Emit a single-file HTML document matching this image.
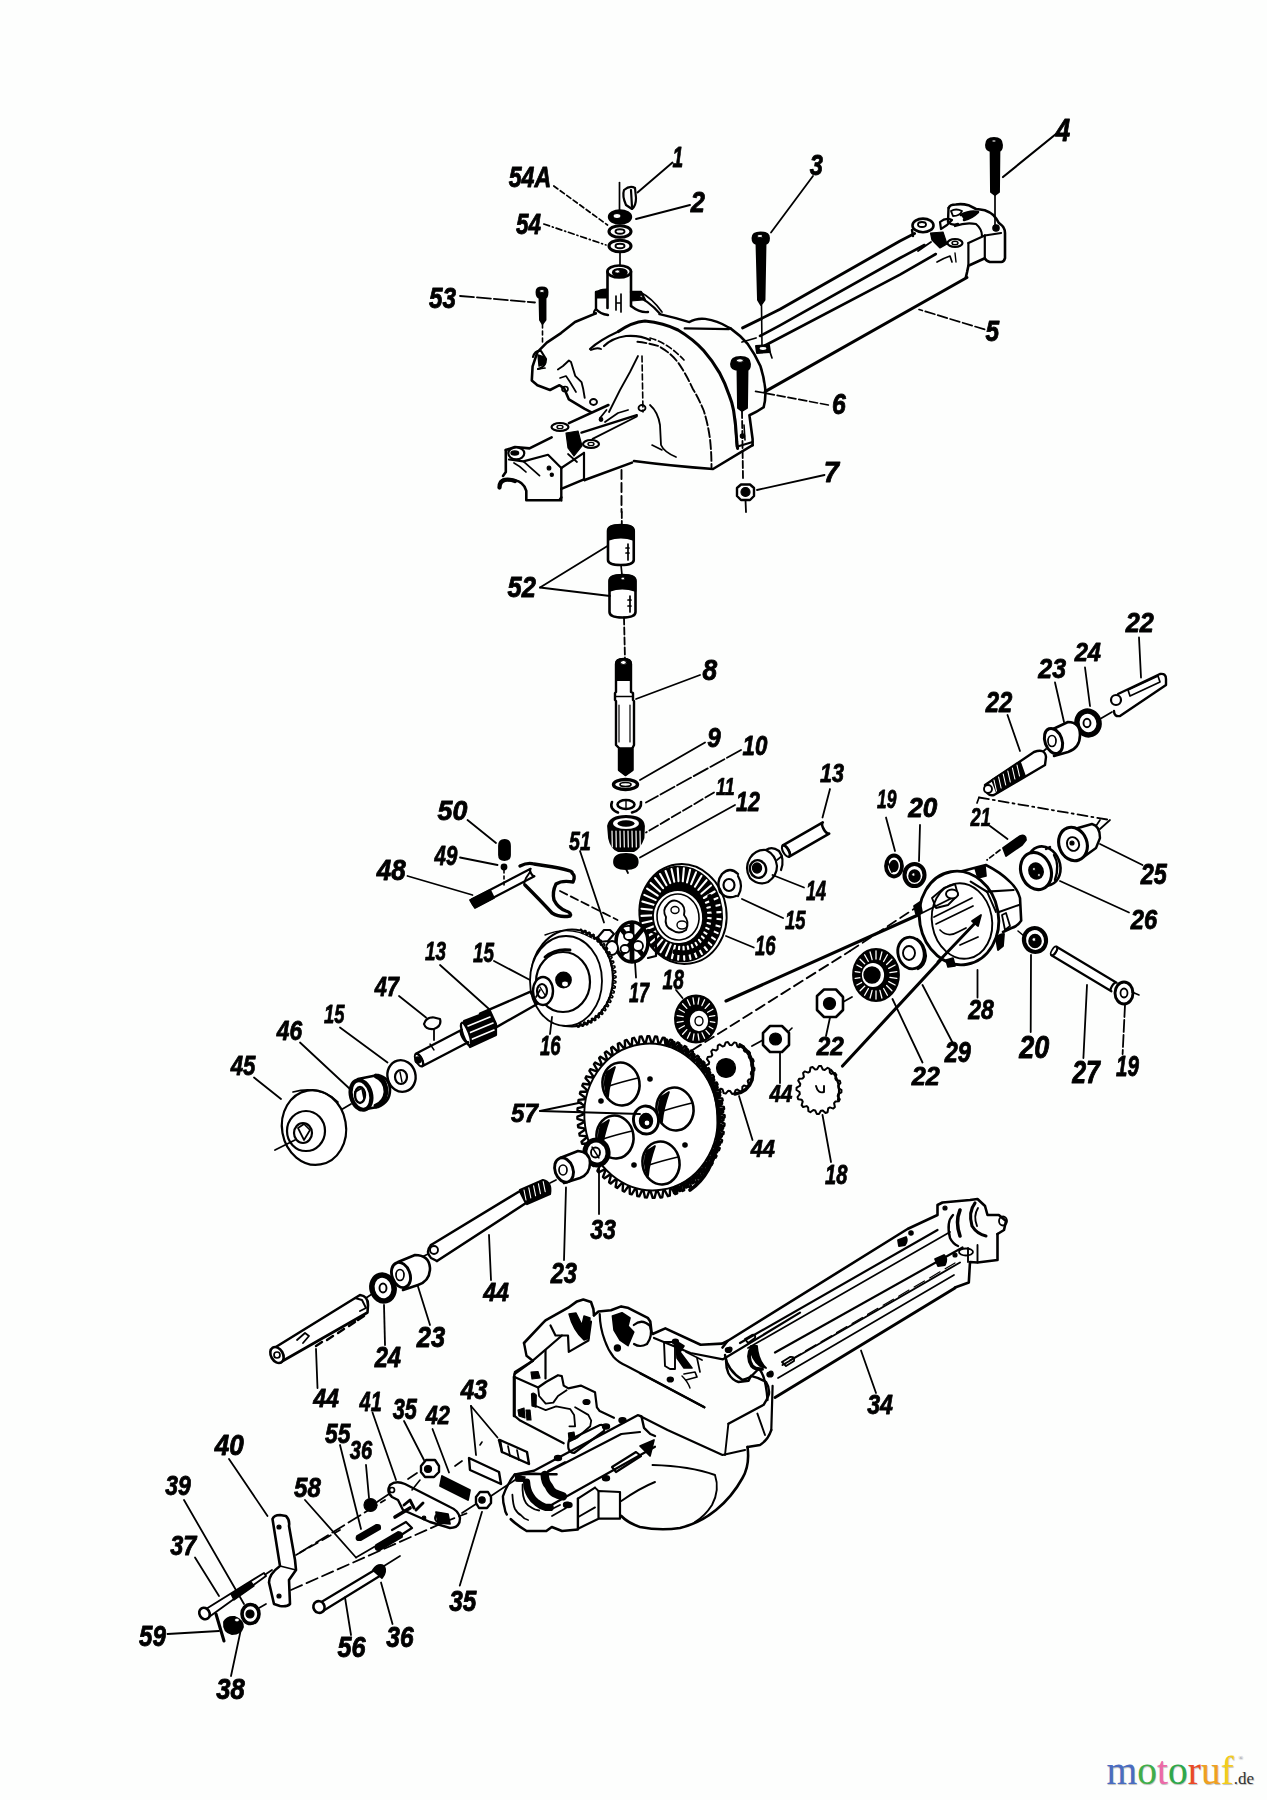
<!DOCTYPE html>
<html><head><meta charset="utf-8"><style>
html,body{margin:0;padding:0;background:#fdfefd;width:1267px;height:1800px;overflow:hidden}
svg{display:block}
.lbl{opacity:0.999}
.lbl text{font-family:"Liberation Sans",sans-serif;font-weight:bold;font-style:italic;font-size:100px;fill:#000;stroke:#000;stroke-width:3px;stroke-linejoin:round}
.logo{position:absolute;left:1106.5px;top:1751.5px;font-family:"Liberation Serif",serif;font-size:39.5px;line-height:1;white-space:nowrap;text-shadow:0.6px 0.6px 0.8px rgba(0,0,0,0.25)}
</style></head><body>
<svg width="1267" height="1800" viewBox="0 0 1267 1800">
<g stroke="#000" fill="none" stroke-linejoin="round" stroke-linecap="round">
<line x1="553.8" y1="186" x2="607.5" y2="225" stroke-width="1.7" stroke-linecap="round" stroke-dasharray="5 3"/>
<line x1="543.8" y1="224" x2="606" y2="245" stroke-width="1.7" stroke-linecap="round" stroke-dasharray="6 3 1 3"/>
<line x1="672.5" y1="162.5" x2="637.5" y2="192.5" stroke-width="1.9" stroke-linecap="round"/>
<line x1="690" y1="205" x2="636" y2="219" stroke-width="1.9" stroke-linecap="round"/>
<line x1="460" y1="296" x2="535" y2="302.5" stroke-width="1.8" stroke-linecap="round" stroke-dasharray="14 3"/>
<line x1="813" y1="176" x2="771" y2="232.5" stroke-width="1.8" stroke-linecap="round"/>
<line x1="1056" y1="134" x2="1003" y2="177" stroke-width="2.2" stroke-linecap="round"/>
<line x1="984.6" y1="329.4" x2="919" y2="309.5" stroke-width="1.7" stroke-linecap="round" stroke-dasharray="10 3"/>
<line x1="828.3" y1="405" x2="754" y2="391" stroke-width="1.7" stroke-linecap="round" stroke-dasharray="8 3"/>
<line x1="824.5" y1="475" x2="757" y2="490" stroke-width="1.8" stroke-linecap="round"/>
<line x1="619.5" y1="182.5" x2="619.5" y2="212" stroke-width="1.7" stroke-linecap="round"/>
<path d="M624,190 Q622,196 626,205 L632,209 Q636,206 636,198 L635,188 Q630,185 624,190 Z" stroke-width="2.2" fill="none" />
<line x1="631" y1="190" x2="632" y2="207" stroke-width="2.2" stroke-linecap="round"/>
<ellipse cx="620" cy="217" rx="11" ry="6.5" stroke-width="2.4" fill="#000"/>
<ellipse cx="617" cy="216" rx="4" ry="2.5" stroke-width="1.2" fill="#fff"/>
<ellipse cx="620" cy="231.5" rx="11" ry="5.8" stroke-width="3.1" fill="none"/>
<ellipse cx="620" cy="231.5" rx="4.5" ry="2.2" stroke-width="1.9" fill="none"/>
<ellipse cx="620" cy="246" rx="11" ry="5.8" stroke-width="3.1" fill="none"/>
<ellipse cx="620" cy="246" rx="4.5" ry="2.2" stroke-width="1.9" fill="none"/>
<line x1="620" y1="252" x2="620" y2="266" stroke-width="1.7" stroke-linecap="round"/>
<path d="M607.5,271.5 L607.5,308 M631,271.5 L631,306" stroke-width="2.6" fill="none" />
<ellipse cx="619.2" cy="271.5" rx="11.8" ry="6" stroke-width="2.6" fill="none"/>
<ellipse cx="619.8" cy="272.5" rx="7" ry="3.6" stroke-width="1.9" fill="#000"/>
<ellipse cx="617.5" cy="271.5" rx="2.5" ry="1.5" stroke-width="0.7" fill="#fff"/>
<path d="M596,292 L607,290 M596,292 L596,309 Q600,314 608,315" stroke-width="2.4" fill="none" />
<path d="M597,293 Q598,289 607,289 L607,298 L597,298 Z" stroke-width="1.2" fill="#000" />
<path d="M631,292 L641,292 L645,300 M631,306 Q640,313 648,312" stroke-width="2.4" fill="none" />
<path d="M631,293 L640,293 L643,300 L631,301 Z" stroke-width="1.2" fill="#000" />
<ellipse cx="641" cy="297" rx="1.5" ry="1.5" stroke-width="0.7" fill="#fff"/>
<path d="M616,296 L616,310 M621,294 L621,312 M616,303 L621,303" stroke-width="1.7" fill="none" />
<path d="M536.5,292 Q536.5,287.5 542,287.5 Q547.5,287.5 547.5,292 Q547.5,297 545.5,298 L545.5,320 L542.5,324 L540,320 L539.5,298 Q536.5,297 536.5,292 Z" stroke-width="1.9" fill="#000" />
<ellipse cx="542" cy="291" rx="2.5" ry="1.5" stroke-width="1" fill="#fff"/>
<line x1="542.5" y1="324" x2="542.5" y2="342" stroke-width="1.6" stroke-linecap="round" stroke-dasharray="4 3"/>
<polyline points="595.8,313.4 575,322 561,333.1 546.8,342.6 537.4,352.1 532.6,366.3 531.8,380.5 537.4,385.2 550,390 559.5,385.2 564.2,388.4 568.9,399.4 584.7,408.9 591,412.1" stroke-width="2.6" fill="none"/>
<path d="M596,309 Q592,313 595.8,313.4" stroke-width="2.2" fill="none" />
<path d="M533,357 Q535,350 541,351 L546,359 Q546,367 538,369" stroke-width="2.2" fill="none" />
<path d="M538,355 L544,357 L545,364 L539,366 Z" stroke-width="1.4" fill="#000" />
<line x1="538" y1="369" x2="545" y2="368" stroke-width="1.7" stroke-linecap="round"/>
<polyline points="557.9,369.5 563,366 568.9,360.5 571,362 575.2,375.8 581.5,382.1 583.1,388.4 584.7,397.9" stroke-width="1.9" fill="none"/>
<polyline points="560,378 566,376 570,382 576,392" stroke-width="1.7" fill="none"/>
<path d="M590,349 Q600,340 618.4,331.6" stroke-width="2.2" fill="none" />
<path d="M591,350 Q597,347 601,349" stroke-width="1.9" fill="none" />
<path d="M604,346 Q612,338 626,336 Q640,335 650,340" stroke-width="2.2" fill="none" />
<path d="M618.4,331.6 Q632,322 645,321 Q664,323 678,330 Q693,339 703.6,350.5 Q712,360 719.4,372.6 Q725,383 729,394.7 Q732,402 733.6,410.5 Q736,425 736.8,442 L737.6,448.4" stroke-width="3.1" fill="none" />
<path d="M637.4,341.8 Q648,343 657.9,345.8 Q670,352 678.4,363 Q686,374 692.6,388.4 Q699,399 703.7,410.5 Q708,424 710,439 Q711.5,452 711.5,467.3" stroke-width="1.9" fill="none" stroke-dasharray="9 3"/>
<path d="M650,338 Q668,343 684,360" stroke-width="1.7" fill="none" stroke-dasharray="6 3"/>
<path d="M659.5,314.2 Q676,318 689.4,322.1 Q696,318 705.2,318.9 Q718,321 727.3,326.8 L730.5,328.4" stroke-width="2.4" fill="none" />
<line x1="684.7" y1="328.4" x2="728.9" y2="329.2" stroke-width="2.2" stroke-linecap="round"/>
<path d="M632.5,293.75 Q648,300 660,313.75" stroke-width="2.2" fill="none" />
<path d="M640,292 Q652,298 662,312" stroke-width="1.7" fill="none" />
<path d="M730.5,328.4 Q740,335 747.9,344.2 Q755,354 760.5,366.3 Q764,377 765.2,388.4 Q766,399 763.6,407.3 Q757,412 749.4,415.2 L752.6,439 L752.6,445.2" stroke-width="2.6" fill="none" />
<polyline points="735,418.4 736.8,446.8 752.6,442" stroke-width="2.2" fill="none"/>
<line x1="744" y1="425" x2="745" y2="440" stroke-width="1.6" stroke-linecap="round"/>
<path d="M634,461 Q672,466 713,469 L752.6,445.2" stroke-width="2.6" fill="none" />
<path d="M632,462.6 L584.7,480" stroke-width="2.6" fill="none" />
<polyline points="638,356 630,372 620,390 609,412" stroke-width="1.8" fill="none"/>
<line x1="642" y1="356" x2="643" y2="412" stroke-width="1.6" stroke-linecap="round" stroke-dasharray="6 3"/>
<polyline points="605,422 618,413 628,410" stroke-width="1.8" fill="none"/>
<path d="M650,405 Q658,412 660,425 L661,445 Q664,452 676,457" stroke-width="1.8" fill="none" />
<path d="M652,445 L662,450" stroke-width="1.6" fill="none" />
<ellipse cx="642" cy="408" rx="3.5" ry="3" stroke-width="1.8" fill="none"/>
<line x1="568.9" y1="423.1" x2="608.4" y2="405" stroke-width="2.6" stroke-linecap="round"/>
<line x1="581.5" y1="432.6" x2="636.8" y2="415.2" stroke-width="2.4" stroke-linecap="round"/>
<line x1="592.6" y1="438.9" x2="636.8" y2="416.5" stroke-width="1.9" stroke-linecap="round"/>
<ellipse cx="593.5" cy="402" rx="3.5" ry="3" stroke-width="1.9" fill="none"/>
<ellipse cx="565" cy="389" rx="3" ry="2.5" stroke-width="1.7" fill="none"/>
<line x1="606.5" y1="410" x2="600" y2="418" stroke-width="1.8" stroke-linecap="round"/>
<ellipse cx="601" cy="419.5" rx="1.8" ry="1.8" stroke-width="1.2" fill="#000"/>
<polyline points="505.8,450 515,447 529.5,448.4 551.6,437.3" stroke-width="2.6" fill="none"/>
<polyline points="505.8,450 505.8,472 503,476" stroke-width="2.6" fill="none"/>
<path d="M500.7,481.3 Q503,479 507.3,479.4 Q511,479.5 514.9,480.3 Q519,481 521.5,483.2 Q525,486 526.3,490.8 L526.3,500.2 L559.4,500.2 L561.3,497.4 M561.3,488.9 L584,479.4 L584.7,480" stroke-width="2.6" fill="none" />
<path d="M499.5,487.5 Q499.5,481 505,479.8 Q510,479.2 515,481" stroke-width="4.3" fill="none" />
<line x1="561.3" y1="468" x2="561.3" y2="500.5" stroke-width="2.4" stroke-linecap="round"/>
<polyline points="509,459.5 523.4,461.4 548,454.8 561.3,468" stroke-width="2.2" fill="none"/>
<line x1="561.3" y1="468" x2="584" y2="452.9" stroke-width="2.2" stroke-linecap="round"/>
<line x1="584" y1="452.9" x2="584" y2="480" stroke-width="2.2" stroke-linecap="round"/>
<line x1="523.4" y1="461.4" x2="539.5" y2="475.6" stroke-width="1.8" stroke-linecap="round"/>
<path d="M514,463 Q520,466 526,472" stroke-width="1.7" fill="none" />
<ellipse cx="549" cy="468" rx="1.8" ry="2" stroke-width="1.2" fill="#000"/>
<ellipse cx="551.8" cy="474.7" rx="1.6" ry="1.6" stroke-width="1.2" fill="#000"/>
<ellipse cx="516.3" cy="453.3" rx="8" ry="6" stroke-width="2.2" fill="#fff"/>
<ellipse cx="514.8" cy="453" rx="3.8" ry="2" stroke-width="1.4" fill="#000"/>
<ellipse cx="560" cy="427" rx="8.5" ry="4" stroke-width="2.2" fill="none"/>
<ellipse cx="560" cy="427" rx="3" ry="1.6" stroke-width="1.4" fill="none"/>
<ellipse cx="591" cy="444" rx="8" ry="4" stroke-width="2.2" fill="none"/>
<ellipse cx="591" cy="444" rx="3" ry="1.6" stroke-width="1.4" fill="none"/>
<path d="M566,433 L578,431 L582,446 L574,456 L568,448 Z" stroke-width="1.2" fill="#000" />
<line x1="568" y1="454" x2="577" y2="462" stroke-width="1.7" stroke-linecap="round"/>
<line x1="621.5" y1="470" x2="621.5" y2="512" stroke-width="1.9" stroke-linecap="round" stroke-dasharray="9 4"/>
<path d="M752.5,238 Q752.5,232.5 760.5,232.5 Q769,232.5 769,238 Q769,243 765.5,244 L764.5,300 L761,305 L758,300 L756.5,244 Q752.5,243 752.5,238 Z" stroke-width="1.9" fill="#000" />
<ellipse cx="760" cy="236" rx="3" ry="1.5" stroke-width="1" fill="#fff"/>
<line x1="761.5" y1="305" x2="762" y2="347" stroke-width="1.6" stroke-linecap="round"/>
<path d="M756,346 L769,345 L770,352 L757,353 Z" stroke-width="1.9" fill="#000" />
<ellipse cx="763" cy="348.5" rx="4" ry="2" stroke-width="1.2" fill="#fff"/>
<line x1="770" y1="352" x2="772" y2="358" stroke-width="1.7" stroke-linecap="round"/>
<path d="M986,145 Q986,138 994,138 Q1002,138 1002,145 Q1002,150 999.4,151 L999,192 L995,195 L991,192 L990.6,151 Q986,150 986,145 Z" stroke-width="1.9" fill="#000" />
<ellipse cx="994" cy="141" rx="2" ry="1" stroke-width="0.7" fill="#fff"/>
<line x1="995" y1="195" x2="995" y2="230" stroke-width="1.7" stroke-linecap="round"/>
<polyline points="742.6,327.9 780,309.3 900,241 914.5,233.5" stroke-width="2.9" fill="none"/>
<polyline points="760,336 780,325.3 900,258 924.5,245" stroke-width="2.6" fill="none"/>
<polyline points="765,345.5 900,274.7 935.8,254" stroke-width="2.6" fill="none"/>
<line x1="765" y1="391.6" x2="967" y2="277.5" stroke-width="3" stroke-linecap="round"/>
<line x1="742" y1="342" x2="756" y2="338" stroke-width="1.8" stroke-linecap="round"/>
<path d="M948.8,207.7 Q950,204.5 955.8,204.5 Q962,203.5 968.4,205.2 Q972,207 976,209 Q980,209.5 984.8,210.2 Q990,212 993.6,215.3 Q997,219 998.7,222.8 Q1003,226 1003.7,227.9 Q1005,230 1005,233 L1005,258.2 Q1004,262 1001.2,262 L989.8,262 Q986,261 984.8,258.2 L968.4,265.8 L967.1,272 L965.9,277.1" stroke-width="2.6" fill="none" />
<ellipse cx="923" cy="225.4" rx="10.5" ry="6.8" stroke-width="2.6" fill="none"/>
<ellipse cx="922" cy="224.5" rx="4" ry="2.5" stroke-width="1.9" fill="none"/>
<path d="M912,230 L913,236" stroke-width="2.4" fill="none" />
<path d="M948.5,208 L948,222 Q952,226 958,224" stroke-width="2.4" fill="none" />
<path d="M951,211 Q956,208 962,211 Q960,216 953,216 Z" stroke-width="1.9" fill="none" />
<path d="M961,215 Q970,210 978,212 Q972,218 964,220" stroke-width="2.6" fill="#000" />
<path d="M940,222 Q946,217 952,220 Q947,226 941,229 Z" stroke-width="2.2" fill="none" />
<path d="M955,226 Q966,222 976,224 Q982,229 982,236" stroke-width="2.2" fill="none" />
<line x1="968.4" y1="243" x2="984.8" y2="235.5" stroke-width="2.2" stroke-linecap="round"/>
<line x1="984.8" y1="235.5" x2="1001.2" y2="233" stroke-width="1.9" stroke-linecap="round"/>
<line x1="968.4" y1="243" x2="968.4" y2="265.8" stroke-width="2.2" stroke-linecap="round"/>
<line x1="984.8" y1="235.5" x2="984.8" y2="258.2" stroke-width="2.2" stroke-linecap="round"/>
<ellipse cx="955" cy="243" rx="7.5" ry="4" stroke-width="2.2" fill="none"/>
<ellipse cx="955" cy="243" rx="3" ry="1.8" stroke-width="1.4" fill="none"/>
<path d="M930.5,233 L943,232 L947,244 L940,248 L932,240 Z" stroke-width="1.2" fill="#000" />
<ellipse cx="996" cy="228" rx="3.2" ry="3.2" stroke-width="1.2" fill="#000"/>
<line x1="931" y1="242" x2="918" y2="251" stroke-width="1.9" stroke-linecap="round"/>
<path d="M937,262 Q944,258 950,256 L952,262" stroke-width="1.7" fill="none" />
<line x1="955" y1="253" x2="956" y2="262" stroke-width="1.4" stroke-linecap="round"/>
<path d="M731,364 Q731,357 740.5,357 Q750,357 750,364 Q750,369 747.5,370 L747,408 L742,411 L738,408 L737.5,370 Q731,369 731,364 Z" stroke-width="1.9" fill="#000" />
<ellipse cx="740" cy="360.5" rx="3.5" ry="1.8" stroke-width="1" fill="#fff"/>
<line x1="742" y1="411" x2="743" y2="478" stroke-width="1.8" stroke-linecap="round" stroke-dasharray="7 3"/>
<ellipse cx="742.5" cy="436" rx="2.2" ry="2.2" stroke-width="1.2" fill="#000"/>
<path d="M737,488 L741,484.5 L750,484.5 L754,488 L754,496 L750,500 L741,500 L737,496 Z" stroke-width="2.4" fill="#fff" />
<ellipse cx="745.5" cy="492" rx="4.5" ry="4.5" stroke-width="1.2" fill="#000"/>
<line x1="745.5" y1="500" x2="746" y2="512" stroke-width="1.8" stroke-linecap="round"/>
<line x1="621.8" y1="512" x2="621.8" y2="525" stroke-width="1.8" stroke-linecap="round" stroke-dasharray="6 3"/>
<path d="M608,531 Q608,525 620.9,525 Q633.75,525 633.75,531 L633.75,560 Q633.75,565 620.9,565 Q608,565 608,560 Z" stroke-width="2.6" fill="#fff" />
<path d="M608,531 Q608,525 620.9,525 Q633.75,525 633.75,531 L633.75,540 Q621,535 608,540 Z" stroke-width="1.8" fill="#000" />
<path d="M628,544 L628,560 M626,548 L629,548 M626,553 L629,553" stroke-width="1.7" fill="none" />
<line x1="621" y1="565" x2="622" y2="575" stroke-width="1.7" stroke-linecap="round"/>
<path d="M609.5,581 Q609.5,575 622.5,575 Q635.5,575 635.5,581 L635.5,612 Q635.5,617.5 622.5,617.5 Q609.5,617.5 609.5,612 Z" stroke-width="2.6" fill="#fff" />
<path d="M609.5,581 Q609.5,575 622.5,575 Q635.5,575 635.5,581 L635.5,591 Q622,586 609.5,591 Z" stroke-width="1.8" fill="#000" />
<path d="M630,596 L630,612 M628,600 L631,600 M628,606 L631,606" stroke-width="1.7" fill="none" />
<ellipse cx="623" cy="578.5" rx="2" ry="1.5" stroke-width="1" fill="#fff"/>
<line x1="540" y1="587.5" x2="607.5" y2="546" stroke-width="1.8" stroke-linecap="round"/>
<line x1="540" y1="587.5" x2="610" y2="596" stroke-width="1.8" stroke-linecap="round"/>
<line x1="624" y1="617.5" x2="625" y2="660" stroke-width="1.8" stroke-linecap="round" stroke-dasharray="7 3"/>
<path d="M616,664 Q616,659 623.5,659 Q631,659 631,664 L631,692 L633,693 L633,700 L634,701 L634,745 L632.5,748 L632.5,770 L625.5,775 L619,770 L619,748 L616,745 L616,701 L615,700 L615,693 L616,692 Z" stroke-width="2.4" fill="#fff" />
<path d="M616,664 Q616,659 623.5,659 Q631,659 631,664 L631,680 L616,680 Z" stroke-width="1.8" fill="#000" />
<ellipse cx="623.5" cy="662.5" rx="3" ry="2" stroke-width="1" fill="#fff"/>
<path d="M619,748 L632.5,748 L632.5,770 L625.5,775 L619,770 Z" stroke-width="1.4" fill="#000" />
<line x1="615" y1="696.5" x2="633" y2="696.5" stroke-width="1.4" stroke-linecap="round"/>
<line x1="619" y1="705" x2="619" y2="742" stroke-width="1.2" stroke-linecap="round"/>
<line x1="630" y1="705" x2="630" y2="742" stroke-width="1.2" stroke-linecap="round"/>
<line x1="700" y1="675" x2="636" y2="699" stroke-width="1.8" stroke-linecap="round"/>
<ellipse cx="625.5" cy="784.5" rx="12" ry="5" stroke-width="3.4" fill="none"/>
<ellipse cx="625.5" cy="784.5" rx="5.5" ry="2" stroke-width="1.7" fill="none"/>
<line x1="705" y1="742.5" x2="640" y2="780" stroke-width="1.8" stroke-linecap="round"/>
<path d="M612,802 Q609,809 618,812.5 M632,812.5 Q642,810 641,802" stroke-width="2.6" fill="none" />
<ellipse cx="626" cy="804.5" rx="8.5" ry="4.5" stroke-width="2.6" fill="none"/>
<line x1="626" y1="800" x2="626" y2="809" stroke-width="1.4" stroke-linecap="round"/>
<line x1="741" y1="750" x2="646" y2="802.5" stroke-width="1.8" stroke-linecap="round" stroke-dasharray="16 3"/>
<path d="M608,826 Q610,816 626,816 Q643,816 644,826 L643.5,838 Q640,848 634,851 L618,851 Q611,848 609,838 Z" stroke-width="1.8" fill="#000" />
<ellipse cx="626" cy="823.5" rx="13" ry="5.5" stroke-width="0.1" fill="#fff"/>
<ellipse cx="626" cy="823.5" rx="8.5" ry="3.2" stroke-width="0.1" fill="#000"/>
<line x1="612" y1="831" x2="612.3" y2="847" stroke="#fff" stroke-width="1.2"/>
<line x1="616" y1="831" x2="616.3" y2="847" stroke="#fff" stroke-width="1.2"/>
<line x1="620" y1="831" x2="620.3" y2="847" stroke="#fff" stroke-width="1.2"/>
<line x1="624" y1="831" x2="624.3" y2="847" stroke="#fff" stroke-width="1.2"/>
<line x1="628" y1="831" x2="628.3" y2="847" stroke="#fff" stroke-width="1.2"/>
<line x1="632" y1="831" x2="632.3" y2="847" stroke="#fff" stroke-width="1.2"/>
<line x1="636" y1="831" x2="636.3" y2="847" stroke="#fff" stroke-width="1.2"/>
<line x1="640" y1="831" x2="640.3" y2="847" stroke="#fff" stroke-width="1.2"/>
<line x1="714" y1="792.5" x2="646" y2="832.5" stroke-width="1.8" stroke-linecap="round" stroke-dasharray="10 3"/>
<path d="M614,862 Q614,854 626,854 Q637.7,854 637.7,862 Q637.7,869 626,869 Q614,869 614,862 Z" stroke-width="1.8" fill="#000" />
<line x1="626" y1="869" x2="628" y2="873" stroke-width="1.8" stroke-linecap="round"/>
<line x1="735" y1="805" x2="640" y2="857.5" stroke-width="1.8" stroke-linecap="round"/>
<path d="M789.2,856.6 L829.2,833.6 A2.9,6.5 -29.9 0 1 822.8,822.4 L782.8,845.4 A2.9,6.5 -29.9 0 1 789.2,856.6 Z" stroke-width="2.6" fill="#fff"/>
<ellipse cx="786" cy="851" rx="2.9" ry="6.5" stroke-width="2.1" fill="none" transform="rotate(-29.9 786 851)"/>
<line x1="830" y1="789" x2="822.5" y2="817.5" stroke-width="1.8" stroke-linecap="round"/>
<path d="M750,858 Q744,868 750,878 Q758,886 768,882 Q777,876 777,866 Q776,855 766,850 Q756,849 750,858 Z" stroke-width="2.2" fill="none" />
<ellipse cx="758" cy="869" rx="8" ry="9" stroke-width="2.4" fill="#fff" transform="rotate(-20 758 869)"/>
<ellipse cx="757" cy="868" rx="4.5" ry="5" stroke-width="1.4" fill="#000"/>
<path d="M766,850 Q772,846 779,851 Q785,859 781,870" stroke-width="2.2" fill="none" />
<line x1="804" y1="887.5" x2="772.5" y2="875" stroke-width="1.8" stroke-linecap="round"/>
<line x1="777" y1="860" x2="782" y2="856" stroke-width="1.7" stroke-linecap="round"/>
<path d="M722,874 Q716,882 720,892 Q727,900 736,896 M738,874 Q730,866 722,874" stroke-width="2.4" fill="none" />
<ellipse cx="729" cy="885" rx="5.5" ry="6" stroke-width="2.2" fill="#fff"/>
<path d="M738,876 Q744,886 738,896" stroke-width="2.2" fill="none" />
<line x1="783" y1="918" x2="742" y2="899" stroke-width="1.8" stroke-linecap="round"/>
<ellipse cx="683" cy="914" rx="43.5" ry="50" stroke-width="1.9" fill="none" transform="rotate(-8 683 914)"/>
<ellipse cx="681" cy="914" rx="41" ry="47.5" stroke-width="1.8" fill="#000" transform="rotate(-8 681 914)"/>
<line x1="720.5" y1="912.1" x2="708.0" y2="912.8" stroke="#fff" stroke-width="2.1"/>
<line x1="720.5" y1="919.3" x2="708.1" y2="918.0" stroke="#fff" stroke-width="2.1"/>
<line x1="719.6" y1="926.4" x2="707.5" y2="923.0" stroke="#fff" stroke-width="2.1"/>
<line x1="717.7" y1="933.1" x2="706.2" y2="927.9" stroke="#fff" stroke-width="2.1"/>
<line x1="714.9" y1="939.4" x2="704.3" y2="932.4" stroke="#fff" stroke-width="2.1"/>
<line x1="711.3" y1="945.1" x2="701.9" y2="936.4" stroke="#fff" stroke-width="2.1"/>
<line x1="706.9" y1="950.0" x2="698.9" y2="939.9" stroke="#fff" stroke-width="2.1"/>
<line x1="701.9" y1="954.0" x2="695.5" y2="942.8" stroke="#fff" stroke-width="2.1"/>
<line x1="696.4" y1="957.0" x2="691.7" y2="944.9" stroke="#fff" stroke-width="2.1"/>
<line x1="690.5" y1="959.0" x2="687.7" y2="946.3" stroke="#fff" stroke-width="2.1"/>
<line x1="684.3" y1="959.8" x2="683.5" y2="946.9" stroke="#fff" stroke-width="2.1"/>
<line x1="678.1" y1="959.6" x2="679.2" y2="946.7" stroke="#fff" stroke-width="2.1"/>
<line x1="671.9" y1="958.2" x2="675.0" y2="945.6" stroke="#fff" stroke-width="2.1"/>
<line x1="666.0" y1="955.7" x2="670.9" y2="943.8" stroke="#fff" stroke-width="2.1"/>
<line x1="660.5" y1="952.2" x2="667.1" y2="941.3" stroke="#fff" stroke-width="2.1"/>
<line x1="655.4" y1="947.8" x2="663.7" y2="938.1" stroke="#fff" stroke-width="2.1"/>
<line x1="651.0" y1="942.5" x2="660.6" y2="934.3" stroke="#fff" stroke-width="2.1"/>
<line x1="647.3" y1="936.5" x2="658.1" y2="930.0" stroke="#fff" stroke-width="2.1"/>
<line x1="644.5" y1="930.0" x2="656.1" y2="925.3" stroke="#fff" stroke-width="2.1"/>
<line x1="642.5" y1="923.1" x2="654.7" y2="920.3" stroke="#fff" stroke-width="2.1"/>
<line x1="641.5" y1="915.9" x2="654.0" y2="915.2" stroke="#fff" stroke-width="2.1"/>
<line x1="641.5" y1="908.7" x2="653.9" y2="910.0" stroke="#fff" stroke-width="2.1"/>
<line x1="642.4" y1="901.6" x2="654.5" y2="905.0" stroke="#fff" stroke-width="2.1"/>
<line x1="644.3" y1="894.9" x2="655.8" y2="900.1" stroke="#fff" stroke-width="2.1"/>
<line x1="647.1" y1="888.6" x2="657.7" y2="895.6" stroke="#fff" stroke-width="2.1"/>
<line x1="650.7" y1="882.9" x2="660.1" y2="891.6" stroke="#fff" stroke-width="2.1"/>
<line x1="655.1" y1="878.0" x2="663.1" y2="888.1" stroke="#fff" stroke-width="2.1"/>
<line x1="660.1" y1="874.0" x2="666.5" y2="885.2" stroke="#fff" stroke-width="2.1"/>
<line x1="665.6" y1="871.0" x2="670.3" y2="883.1" stroke="#fff" stroke-width="2.1"/>
<line x1="671.5" y1="869.0" x2="674.3" y2="881.7" stroke="#fff" stroke-width="2.1"/>
<line x1="677.7" y1="868.2" x2="678.5" y2="881.1" stroke="#fff" stroke-width="2.1"/>
<line x1="683.9" y1="868.4" x2="682.8" y2="881.3" stroke="#fff" stroke-width="2.1"/>
<line x1="690.1" y1="869.8" x2="687.0" y2="882.4" stroke="#fff" stroke-width="2.1"/>
<line x1="696.0" y1="872.3" x2="691.1" y2="884.2" stroke="#fff" stroke-width="2.1"/>
<line x1="701.5" y1="875.8" x2="694.9" y2="886.7" stroke="#fff" stroke-width="2.1"/>
<line x1="706.6" y1="880.2" x2="698.3" y2="889.9" stroke="#fff" stroke-width="2.1"/>
<line x1="711.0" y1="885.5" x2="701.4" y2="893.7" stroke="#fff" stroke-width="2.1"/>
<line x1="714.7" y1="891.5" x2="703.9" y2="898.0" stroke="#fff" stroke-width="2.1"/>
<line x1="717.5" y1="898.0" x2="705.9" y2="902.7" stroke="#fff" stroke-width="2.1"/>
<line x1="719.5" y1="904.9" x2="707.3" y2="907.7" stroke="#fff" stroke-width="2.1"/>
<path d="M709.9,896.5 L711.5,900.5 L712.8,904.7 L713.6,909.1 L714.1,913.5 L714.1,917.9 L713.7,922.2 L712.8,926.5 L711.6,930.6 L710.0,934.4 L707.9,938.1 L705.6,941.4 L702.9,944.3 L700.0,946.9 L696.8,949.0 L693.4,950.7 L689.8,951.9 L686.1,952.7 L682.4,952.9 L678.6,952.6 L674.9,951.9" stroke="#000" stroke-width="5" fill="none" stroke-dasharray="3 1.5"/>
<ellipse cx="678" cy="917" rx="25" ry="27" stroke-width="1.8" fill="#fff" transform="rotate(-8 678 917)"/>
<ellipse cx="678" cy="917" rx="21" ry="23" stroke-width="1.6" fill="none" transform="rotate(-8 678 917)"/>
<path d="M667,905 Q672,898 679,902 Q686,906 684,915 Q690,922 686,930 Q679,935 672,930 Q664,927 666,917 Q662,910 667,905 Z" stroke-width="1.9" fill="none" />
<ellipse cx="675" cy="910" rx="4" ry="3.5" stroke-width="1.4" fill="#fff"/>
<ellipse cx="682" cy="925" rx="5" ry="4" stroke-width="1.4" fill="#fff"/>
<line x1="753.8" y1="947.5" x2="726" y2="936" stroke-width="1.8" stroke-linecap="round"/>
<path d="M598,937 L604,930 L610,930 L614,934 L608,941 L600,942 Z" stroke-width="2.2" fill="#fff" />
<ellipse cx="632" cy="942" rx="16" ry="20" stroke-width="3.6" fill="#fff"/>
<path d="M622,930 L642,954 M642,930 L622,954 M632,924 L632,960" stroke-width="4.8" fill="none" />
<ellipse cx="629" cy="936" rx="5" ry="4" stroke-width="1.8" fill="#fff"/>
<ellipse cx="638" cy="946" rx="5" ry="5" stroke-width="1.8" fill="#fff"/>
<ellipse cx="625" cy="949" rx="4.5" ry="4" stroke-width="1.8" fill="#fff"/>
<path d="M616,933 Q622,925 630,926" stroke-width="1.9" fill="none" />
<ellipse cx="612" cy="948" rx="6" ry="7" stroke-width="1.9" fill="#fff"/>
<path d="M648,930 L656,934 L656,956 L648,958" stroke-width="2.2" fill="none" />
<line x1="636" y1="977.5" x2="635" y2="962" stroke-width="1.8" stroke-linecap="round"/>
<line x1="580" y1="851" x2="604" y2="922.5" stroke-width="1.8" stroke-linecap="round"/>
<line x1="560" y1="891" x2="617.5" y2="920" stroke-width="1.8" stroke-linecap="round" stroke-dasharray="8 4"/>
<ellipse cx="696" cy="1019" rx="21" ry="23.5" stroke-width="1.9" fill="#000"/>
<line x1="714.8" y1="1022.4" x2="708.8" y2="1021.3" stroke="#fff" stroke-width="1.3"/>
<line x1="712.9" y1="1028.8" x2="707.6" y2="1025.8" stroke="#fff" stroke-width="1.3"/>
<line x1="709.4" y1="1034.2" x2="705.2" y2="1029.6" stroke="#fff" stroke-width="1.3"/>
<line x1="704.6" y1="1038.2" x2="701.9" y2="1032.4" stroke="#fff" stroke-width="1.3"/>
<line x1="699.0" y1="1040.2" x2="698.0" y2="1033.8" stroke="#fff" stroke-width="1.3"/>
<line x1="693.0" y1="1040.2" x2="694.0" y2="1033.8" stroke="#fff" stroke-width="1.3"/>
<line x1="687.4" y1="1038.2" x2="690.1" y2="1032.4" stroke="#fff" stroke-width="1.3"/>
<line x1="682.6" y1="1034.2" x2="686.8" y2="1029.6" stroke="#fff" stroke-width="1.3"/>
<line x1="679.1" y1="1028.8" x2="684.4" y2="1025.8" stroke="#fff" stroke-width="1.3"/>
<line x1="677.2" y1="1022.4" x2="683.2" y2="1021.3" stroke="#fff" stroke-width="1.3"/>
<line x1="677.2" y1="1015.6" x2="683.2" y2="1016.7" stroke="#fff" stroke-width="1.3"/>
<line x1="679.1" y1="1009.2" x2="684.4" y2="1012.2" stroke="#fff" stroke-width="1.3"/>
<line x1="682.6" y1="1003.8" x2="686.8" y2="1008.4" stroke="#fff" stroke-width="1.3"/>
<line x1="687.4" y1="999.8" x2="690.1" y2="1005.6" stroke="#fff" stroke-width="1.3"/>
<line x1="693.0" y1="997.8" x2="694.0" y2="1004.2" stroke="#fff" stroke-width="1.3"/>
<line x1="699.0" y1="997.8" x2="698.0" y2="1004.2" stroke="#fff" stroke-width="1.3"/>
<line x1="704.6" y1="999.8" x2="701.9" y2="1005.6" stroke="#fff" stroke-width="1.3"/>
<line x1="709.4" y1="1003.8" x2="705.2" y2="1008.4" stroke="#fff" stroke-width="1.3"/>
<line x1="712.9" y1="1009.2" x2="707.6" y2="1012.2" stroke="#fff" stroke-width="1.3"/>
<line x1="714.8" y1="1015.6" x2="708.8" y2="1016.7" stroke="#fff" stroke-width="1.3"/>
<ellipse cx="699" cy="1021" rx="10" ry="11" stroke-width="1.7" fill="#fff"/>
<ellipse cx="699" cy="1021" rx="4" ry="4.5" stroke-width="1.4" fill="none"/>
<line x1="676" y1="990" x2="682.5" y2="998" stroke-width="1.8" stroke-linecap="round"/>
<line x1="726" y1="1001" x2="918" y2="915" stroke-width="3.1" stroke-linecap="round"/>
<line x1="918" y1="915" x2="952" y2="898" stroke-width="1.7" stroke-linecap="round"/>
<line x1="692.5" y1="1050" x2="850" y2="951" stroke-width="1.9" stroke-linecap="round" stroke-dasharray="10 5"/>
<line x1="850" y1="951" x2="920" y2="905" stroke-width="1.7" stroke-linecap="round" stroke-dasharray="10 5"/>
<line x1="842.5" y1="1066" x2="980" y2="917.5" stroke-width="3.1" stroke-linecap="round"/>
<path d="M975,916 L984,912 L980,922 Z" stroke-width="1.8" fill="#000" />
<path d="M475.9,906.7 L534.4,876.2 A1.9,4.2 -27.5 0 1 530.6,868.8 L472.1,899.3 A1.9,4.2 -27.5 0 1 475.9,906.7 Z" stroke-width="2.2" fill="#fff"/>
<ellipse cx="474" cy="903" rx="1.9" ry="4.2" stroke-width="1.7" fill="none" transform="rotate(-27.5 474 903)"/>
<path d="M470,900 L490,890 L494,898 L475,908 Z" stroke-width="1.8" fill="#000" />
<line x1="407.5" y1="876" x2="472.5" y2="895" stroke-width="1.8" stroke-linecap="round"/>
<path d="M520,866 Q528,862 534,864 Q575,870 572,873 Q576,876 573,882 Q562,880 556,884 Q552,892 554,900 Q558,908 566,911 Q572,913 570,916 Q560,918 552,913 Q540,900 525,885" stroke-width="3.4" fill="none" />
<path d="M530,872 L526,878 Q523,885 525,885" stroke-width="1.9" fill="none" />
<path d="M499,846 Q499,840 504.5,840 Q510,840 510,846 L510,855 Q510,860 504.5,860 Q499,860 499,855 Z" stroke-width="1.8" fill="#000" />
<circle cx="504" cy="867" r="2.6" stroke-width="1.6" fill="#000"/>
<line x1="504" y1="870" x2="504" y2="885" stroke-width="1.6" stroke-linecap="round" stroke-dasharray="3 3"/>
<line x1="467.5" y1="820" x2="496" y2="843" stroke-width="1.8" stroke-linecap="round"/>
<line x1="460" y1="857.5" x2="497.5" y2="865" stroke-width="1.8" stroke-linecap="round"/>
<ellipse cx="572" cy="978" rx="41" ry="48.5" stroke-width="2.2" fill="#fff"/>
<path d="M580.5,929.3 L581.6,929.5 L582.0,933.1 L583.0,933.4 L584.9,930.4 L585.9,930.8 L586.0,934.5 L587.0,934.9 L589.1,932.1 L590.1,932.6 L589.9,936.3 L590.8,936.8 L593.2,934.3 L594.2,934.9 L593.6,938.5 L594.5,939.2 L597.0,937.0 L598.0,937.7 L597.1,941.2 L597.9,942.0 L600.6,940.1 L601.5,940.9 L600.3,944.3 L601.0,945.2 L603.9,943.6 L604.7,944.6 L603.2,947.8 L603.9,948.7 L606.9,947.5 L607.6,948.6 L605.8,951.6 L606.3,952.6 L609.5,951.8 L610.1,952.9 L608.0,955.7 L608.5,956.7 L611.6,956.3 L612.1,957.5 L609.8,960.0 L610.2,961.1 L613.4,961.1 L613.8,962.3 L611.2,964.5 L611.5,965.7 L614.7,966.0 L615.0,967.3 L612.3,969.2 L612.4,970.4 L615.6,971.1 L615.7,972.4 L612.8,974.0 L612.9,975.2 L616.0,976.3 L616.0,977.6 L613.0,978.8 L613.0,980.0 L615.9,981.5 L615.8,982.7 L612.7,983.6 L612.6,984.8 L615.3,986.6 L615.1,987.9 L612.0,988.4 L611.7,989.5 L614.3,991.6 L614.0,992.9 L610.8,993.0 L610.5,994.1 L612.9,996.5 L612.4,997.7 L609.2,997.5 L608.8,998.5 L611.0,1001.2 L610.4,1002.4 L607.3,1001.7 L606.7,1002.7 L608.6,1005.7 L608.0,1006.7 L604.9,1005.7 L604.3,1006.7 L605.9,1009.8 L605.2,1010.8 L602.2,1009.4 L601.5,1010.3 L602.9,1013.6 L602.1,1014.5 L599.2,1012.7 L598.4,1013.5 L599.5,1017.0 L598.6,1017.8 L595.9,1015.7 L595.1,1016.4 L595.8,1020.0 L594.8,1020.7 L592.4,1018.3 L591.5,1018.8 L591.8,1022.5 L590.8,1023.0 L588.6,1020.4 L587.7,1020.8 L587.7,1024.5 L586.6,1024.9 L584.7,1022.0 L583.7,1022.4 L583.4,1026.0 L582.3,1026.3 L580.6,1023.2 L579.6,1023.4 L579.0,1027.0 L577.9,1027.2 L576.5,1023.9" stroke-width="1.6" fill="none"/>
<path d="M545,935 Q570,925 592,938" stroke-width="1.4" fill="none" />
<ellipse cx="566" cy="981" rx="36" ry="45" stroke-width="1.8" fill="#fff"/>
<ellipse cx="563" cy="982" rx="27" ry="30" stroke-width="2.2" fill="none"/>
<path d="M545,957 Q556,948 570,950" stroke-width="2.9" fill="none" />
<circle cx="563.5" cy="980" r="7.5" stroke-width="1.8" fill="#000"/>
<ellipse cx="565" cy="984" rx="3.5" ry="3" stroke-width="1.2" fill="#fff"/>
<line x1="552" y1="1017" x2="550" y2="1034" stroke-width="1.8" stroke-linecap="round"/>
<path d="M480,1013.7 L530.5,991.6 L536.8,1004.2 L492.6,1029.4" stroke-width="2.4" fill="none" />
<ellipse cx="543" cy="991" rx="10" ry="14" stroke-width="2.4" fill="#fff"/>
<ellipse cx="542" cy="991" rx="5" ry="7" stroke-width="2.2" fill="none"/>
<line x1="540" y1="987" x2="545" y2="995" stroke-width="1.4" stroke-linecap="round"/>
<path d="M536,997 L540,990" stroke-width="1.7" fill="none" />
<line x1="494" y1="961" x2="530" y2="980" stroke-width="1.8" stroke-linecap="round"/>
<path d="M464,1021 L490,1011 L496,1024 L496,1035 L470,1047 L465,1037 Z" stroke-width="2.2" fill="#000" />
<path d="M468,1026 L490,1017 M469,1033 L493,1023 M470,1040 L494,1030" stroke-width="1.6" fill="none" stroke="#fff"/>
<ellipse cx="466" cy="1034" rx="3" ry="12" stroke-width="2.2" fill="#fff" transform="rotate(-20 466 1034)"/>
<line x1="440" y1="965" x2="489" y2="1009" stroke-width="1.8" stroke-linecap="round"/>
<path d="M422.2,1066.2 L468.2,1042.2 A3.1,7 -27.6 0 1 461.8,1029.8 L415.8,1053.8 A3.1,7 -27.6 0 1 422.2,1066.2 Z" stroke-width="2.4" fill="#fff"/>
<ellipse cx="419" cy="1060" rx="3.1" ry="7" stroke-width="1.9" fill="none" transform="rotate(-27.6 419 1060)"/>
<circle cx="418" cy="1060" r="3" stroke-width="1.4" fill="#000"/>
<line x1="430" y1="1044" x2="434" y2="1050" stroke-width="1.4" stroke-linecap="round"/>
<path d="M424,1024 Q426,1017 434,1017.5 L440,1019 Q442,1026 434,1029 Q426,1030 424,1024 Z" stroke-width="2.2" fill="none" />
<line x1="399" y1="996" x2="426" y2="1017.5" stroke-width="1.8" stroke-linecap="round"/>
<line x1="434" y1="1030" x2="434" y2="1040" stroke-width="1.8" stroke-linecap="round"/>
<ellipse cx="401.5" cy="1076" rx="14" ry="16" stroke-width="2.4" fill="#fff" transform="rotate(-15 401.5 1076)"/>
<ellipse cx="401" cy="1077" rx="6" ry="7" stroke-width="2.2" fill="#fff"/>
<line x1="400" y1="1072" x2="402" y2="1082" stroke-width="1.4" stroke-linecap="round"/>
<line x1="340" y1="1027.5" x2="387.5" y2="1062.5" stroke-width="1.8" stroke-linecap="round"/>
<path d="M358,1079 L378,1075 Q390,1078 390,1090 Q390,1102 378,1107 L360,1110" stroke-width="2.6" fill="#fff" />
<path d="M376,1076 Q386,1080 386,1092 Q385,1102 376,1106" stroke-width="4.8" fill="none" />
<ellipse cx="361" cy="1095" rx="10" ry="15" stroke-width="4.2" fill="#fff" transform="rotate(-15 361 1095)"/>
<ellipse cx="360" cy="1095" rx="5" ry="8" stroke-width="2.4" fill="#fff"/>
<path d="M355,1092 L362,1088 L364,1098" stroke-width="1.8" fill="none" />
<line x1="300" y1="1042.5" x2="351" y2="1090" stroke-width="1.8" stroke-linecap="round"/>
<line x1="342.5" y1="1109" x2="351" y2="1104" stroke-width="1.8" stroke-linecap="round"/>
<ellipse cx="314" cy="1127.5" rx="32" ry="37.5" stroke-width="2.2" fill="#fff" transform="rotate(-10 314 1127.5)"/>
<path d="M293,1092 Q320,1085 338,1102" stroke-width="1.7" fill="none" />
<ellipse cx="306" cy="1131" rx="19" ry="20" stroke-width="2.2" fill="#fff"/>
<ellipse cx="303" cy="1133" rx="9" ry="10" stroke-width="2.2" fill="none"/>
<path d="M298,1128 L304,1124 L310,1130 L304,1140 Z" stroke-width="1.7" fill="none" />
<line x1="275" y1="1150" x2="295" y2="1140" stroke-width="1.8" stroke-linecap="round"/>
<line x1="254" y1="1077.5" x2="281" y2="1099" stroke-width="1.8" stroke-linecap="round"/>
<path d="M1118,694 L1160,674 Q1166,673 1166,679 L1166,685 L1120,716 Q1114,717 1114,711" stroke-width="2.4" fill="#fff" />
<circle cx="1116" cy="700" r="5" stroke-width="2.2" fill="#fff"/>
<path d="M1128,690 L1158,676 L1160,682 L1130,696 Z" stroke-width="1.7" fill="none" />
<line x1="1139" y1="637.5" x2="1141" y2="677.5" stroke-width="1.8" stroke-linecap="round"/>
<line x1="1100" y1="719" x2="1112" y2="712" stroke-width="1.7" stroke-linecap="round"/>
<ellipse cx="1088" cy="723" rx="11" ry="12" stroke-width="5.4" fill="#fff" transform="rotate(-20 1088 723)"/>
<ellipse cx="1087" cy="723" rx="3.5" ry="4.2" stroke-width="1.9" fill="#fff"/>
<line x1="1085" y1="667.5" x2="1090" y2="706" stroke-width="1.8" stroke-linecap="round"/>
<path d="M1051,730 L1068,722 Q1080,722 1080,735 Q1080,748 1068,752 L1054,756" stroke-width="2.6" fill="#fff" />
<ellipse cx="1053.5" cy="741" rx="8.5" ry="13" stroke-width="3" fill="#fff" transform="rotate(-20 1053.5 741)"/>
<ellipse cx="1052" cy="741" rx="4" ry="5.5" stroke-width="1.7" fill="none"/>
<line x1="1055" y1="682.5" x2="1064" y2="722" stroke-width="1.8" stroke-linecap="round"/>
<line x1="1040" y1="754" x2="1046" y2="749" stroke-width="1.8" stroke-linecap="round"/>
<path d="M985,785 L1034,752 Q1045,748 1046,757 L1045,765 L994,795 Q986,797 985,785 Z" stroke-width="2.4" fill="#fff" />
<path d="M992,780 L1020,762 L1025,776 L997,793 Z" stroke-width="1.8" fill="#000" />
<line x1="994.0" y1="780.0" x2="996.5" y2="791.0" stroke="#fff" stroke-width="1.1"/>
<line x1="998.6" y1="777.0" x2="1001.1" y2="788.0" stroke="#fff" stroke-width="1.1"/>
<line x1="1003.2" y1="774.0" x2="1005.7" y2="785.0" stroke="#fff" stroke-width="1.1"/>
<line x1="1007.8" y1="771.0" x2="1010.3" y2="782.0" stroke="#fff" stroke-width="1.1"/>
<line x1="1012.4" y1="768.0" x2="1014.9" y2="779.0" stroke="#fff" stroke-width="1.1"/>
<line x1="1017.0" y1="765.0" x2="1019.5" y2="776.0" stroke="#fff" stroke-width="1.1"/>
<circle cx="988" cy="789" r="4" stroke-width="1.9" fill="#fff"/>
<line x1="1007.5" y1="715" x2="1020" y2="751" stroke-width="1.8" stroke-linecap="round"/>
<line x1="979" y1="797.5" x2="1110" y2="820" stroke-width="1.8" stroke-linecap="round" stroke-dasharray="10 4 2 4"/>
<line x1="1110" y1="820" x2="1100" y2="829" stroke-width="1.7" stroke-linecap="round"/>
<line x1="979" y1="797.5" x2="977" y2="803" stroke-width="1.7" stroke-linecap="round"/>
<ellipse cx="894" cy="866" rx="8" ry="10.5" stroke-width="3.8" fill="#fff"/>
<ellipse cx="894" cy="866" rx="3.5" ry="5" stroke-width="2.4" fill="#000"/>
<path d="M887,860 L892,872" stroke-width="1.8" fill="none" />
<line x1="886" y1="817.5" x2="895" y2="851" stroke-width="1.8" stroke-linecap="round"/>
<ellipse cx="914.5" cy="875" rx="10" ry="11" stroke-width="4.1" fill="#fff"/>
<ellipse cx="914.5" cy="876" rx="5" ry="5.5" stroke-width="2.6" fill="#000"/>
<circle cx="913.5" cy="874.5" r="1.6" stroke-width="0.7" fill="#fff"/>
<line x1="920" y1="825" x2="919" y2="861" stroke-width="1.8" stroke-linecap="round"/>
<path d="M1003,848 L1020,836 Q1026,834 1026,840 L1022,845 L1006,856 Z" stroke-width="1.8" fill="#000" />
<line x1="990" y1="826" x2="1007.5" y2="839" stroke-width="1.8" stroke-linecap="round"/>
<line x1="1000" y1="850" x2="987" y2="860" stroke-width="1.7" stroke-linecap="round" stroke-dasharray="5 3"/>
<ellipse cx="1073" cy="844" rx="14" ry="17" stroke-width="3.1" fill="#fff" transform="rotate(-20 1073 844)"/>
<ellipse cx="1073" cy="844" rx="6" ry="7" stroke-width="1.9" fill="#fff" transform="rotate(-20 1073 844)"/>
<circle cx="1072" cy="843" r="2" stroke-width="1.2" fill="#000"/>
<path d="M1078,828 L1092,824 Q1100,826 1100,838 L1096,848 L1085,856" stroke-width="2.4" fill="none" />
<line x1="1100" y1="844" x2="1142.5" y2="865" stroke-width="1.8" stroke-linecap="round"/>
<line x1="1096" y1="826" x2="1100" y2="820" stroke-width="1.7" stroke-linecap="round"/>
<ellipse cx="1044" cy="866" rx="16" ry="20" stroke-width="2.6" fill="#fff" transform="rotate(-20 1044 866)"/>
<ellipse cx="1036" cy="871" rx="15" ry="19" stroke-width="3.1" fill="#fff" transform="rotate(-20 1036 871)"/>
<ellipse cx="1036" cy="871" rx="6.5" ry="7.5" stroke-width="2.6" fill="#000" transform="rotate(-20 1036 871)"/>
<circle cx="1034" cy="869" r="1.5" stroke-width="1" fill="#fff"/>
<circle cx="1039" cy="875" r="1.5" stroke-width="1" fill="#fff"/>
<path d="M1046,849 L1050,847 M1054,855 Q1060,865 1055,880" stroke-width="2.4" fill="none" />
<line x1="1060" y1="881" x2="1129" y2="912.5" stroke-width="1.8" stroke-linecap="round"/>
<path d="M960.6,871.5 L985.9,865 Q1000,872 1009.8,881.6 Q1017,888 1020,898 L1021.2,920.7 Q1018,926 1011,928.3 L1003,932" stroke-width="2.6" fill="#fff" />
<ellipse cx="959" cy="918" rx="39.5" ry="47" stroke-width="2.9" fill="#fff" transform="rotate(-10 959 918)"/>
<ellipse cx="962" cy="921" rx="30" ry="38" stroke-width="1.9" fill="none" transform="rotate(-10 962 921)"/>
<line x1="970.7" y1="881.6" x2="987" y2="891.7" stroke-width="2.2" stroke-linecap="round"/>
<line x1="987" y1="891.7" x2="1013.6" y2="890" stroke-width="2.2" stroke-linecap="round"/>
<line x1="987" y1="891.7" x2="996" y2="912" stroke-width="1.9" stroke-linecap="round"/>
<line x1="999" y1="912" x2="1019" y2="905" stroke-width="1.9" stroke-linecap="round"/>
<path d="M1002,915 L1006,913 L1010,926 L1005,930 Z" stroke-width="1.8" fill="none" />
<path d="M996,938 Q1000,934 1004,934 L1003,946 L998,950 Z" stroke-width="1.8" fill="#000" />
<path d="M975,868 L985,866 L986,876 L978,878 Z" stroke-width="1.7" fill="#000" />
<path d="M914,906 L920,902 L922,912 L916,914 Z" stroke-width="1.7" fill="#000" />
<path d="M946,960 L953,958 L955,966 L948,967 Z" stroke-width="1.7" fill="#000" />
<path d="M932,898 L944,888 L955,884 L958,895 L948,905 L936,908 Z" stroke-width="1.9" fill="none" />
<ellipse cx="952" cy="894" rx="6" ry="4.5" stroke-width="1.9" fill="#fff"/>
<line x1="934" y1="917" x2="972" y2="898" stroke-width="1.7" stroke-linecap="round"/>
<line x1="936" y1="924" x2="973" y2="906" stroke-width="1.7" stroke-linecap="round"/>
<path d="M940,930 Q948,938 958,932 L966,928" stroke-width="1.7" fill="none" />
<line x1="960" y1="945" x2="978" y2="937" stroke-width="1.8" stroke-linecap="round"/>
<line x1="977.5" y1="970" x2="977.5" y2="997.5" stroke-width="1.8" stroke-linecap="round"/>
<line x1="918" y1="915" x2="950" y2="899" stroke-width="1.9" stroke-linecap="round"/>
<line x1="938" y1="962" x2="978" y2="920" stroke-width="2.9" stroke-linecap="round"/>
<path d="M972,921 L981,915 L978,926 Z" stroke-width="1.8" fill="#000" />
<ellipse cx="1035" cy="940" rx="11" ry="12" stroke-width="4.1" fill="#fff" transform="rotate(-15 1035 940)"/>
<ellipse cx="1035" cy="941" rx="5.5" ry="6" stroke-width="2.6" fill="#000"/>
<circle cx="1034" cy="939.5" r="1.8" stroke-width="0.7" fill="#fff"/>
<line x1="1031" y1="955" x2="1030.7" y2="1032" stroke-width="1.8" stroke-linecap="round"/>
<line x1="1018" y1="931" x2="1024" y2="936" stroke-width="1.6" stroke-linecap="round"/>
<path d="M1051.4,955.3 L1111.4,991.3 A2.2,5 31 0 1 1116.6,982.7 L1056.6,946.7 A2.2,5 31 0 1 1051.4,955.3 Z" stroke-width="2.2" fill="#fff"/>
<ellipse cx="1054" cy="951" rx="2.2" ry="5" stroke-width="1.7" fill="none" transform="rotate(31 1054 951)"/>
<line x1="1087" y1="985" x2="1083.4" y2="1058" stroke-width="1.8" stroke-linecap="round"/>
<ellipse cx="1124" cy="993" rx="9" ry="11" stroke-width="2.9" fill="#fff"/>
<ellipse cx="1124" cy="993" rx="3.5" ry="4.5" stroke-width="1.8" fill="none"/>
<line x1="1132" y1="992" x2="1139" y2="995" stroke-width="1.6" stroke-linecap="round"/>
<line x1="1125" y1="1005" x2="1122.6" y2="1054" stroke-width="1.8" stroke-linecap="round" stroke-dasharray="12 3"/>
<ellipse cx="911" cy="953" rx="13" ry="16" stroke-width="2.9" fill="#fff" transform="rotate(-15 911 953)"/>
<ellipse cx="909" cy="953" rx="6" ry="7" stroke-width="1.9" fill="#fff"/>
<path d="M917,939 Q925,944 926,956 Q925,966 918,969" stroke-width="2.2" fill="none" />
<line x1="922.5" y1="985" x2="952.5" y2="1042.5" stroke-width="1.8" stroke-linecap="round"/>
<ellipse cx="876" cy="975" rx="23" ry="26" stroke-width="1.8" fill="#000"/>
<line x1="896.8" y1="978.4" x2="889.9" y2="977.3" stroke="#fff" stroke-width="1.3"/>
<line x1="895.1" y1="985.0" x2="888.7" y2="981.6" stroke="#fff" stroke-width="1.3"/>
<line x1="891.9" y1="990.7" x2="886.6" y2="985.5" stroke="#fff" stroke-width="1.3"/>
<line x1="887.4" y1="995.2" x2="883.6" y2="988.5" stroke="#fff" stroke-width="1.3"/>
<line x1="881.9" y1="998.0" x2="879.9" y2="990.4" stroke="#fff" stroke-width="1.3"/>
<line x1="876.0" y1="999.0" x2="876.0" y2="991.0" stroke="#fff" stroke-width="1.3"/>
<line x1="870.1" y1="998.0" x2="872.1" y2="990.4" stroke="#fff" stroke-width="1.3"/>
<line x1="864.6" y1="995.2" x2="868.4" y2="988.5" stroke="#fff" stroke-width="1.3"/>
<line x1="860.1" y1="990.7" x2="865.4" y2="985.5" stroke="#fff" stroke-width="1.3"/>
<line x1="856.9" y1="985.0" x2="863.3" y2="981.6" stroke="#fff" stroke-width="1.3"/>
<line x1="855.2" y1="978.4" x2="862.1" y2="977.3" stroke="#fff" stroke-width="1.3"/>
<line x1="855.2" y1="971.6" x2="862.1" y2="972.7" stroke="#fff" stroke-width="1.3"/>
<line x1="856.9" y1="965.0" x2="863.3" y2="968.4" stroke="#fff" stroke-width="1.3"/>
<line x1="860.1" y1="959.3" x2="865.4" y2="964.5" stroke="#fff" stroke-width="1.3"/>
<line x1="864.6" y1="954.8" x2="868.4" y2="961.5" stroke="#fff" stroke-width="1.3"/>
<line x1="870.1" y1="952.0" x2="872.1" y2="959.6" stroke="#fff" stroke-width="1.3"/>
<line x1="876.0" y1="951.0" x2="876.0" y2="959.0" stroke="#fff" stroke-width="1.3"/>
<line x1="881.9" y1="952.0" x2="879.9" y2="959.6" stroke="#fff" stroke-width="1.3"/>
<line x1="887.4" y1="954.8" x2="883.6" y2="961.5" stroke="#fff" stroke-width="1.3"/>
<line x1="891.9" y1="959.3" x2="886.6" y2="964.5" stroke="#fff" stroke-width="1.3"/>
<line x1="895.1" y1="965.0" x2="888.7" y2="968.4" stroke="#fff" stroke-width="1.3"/>
<line x1="896.8" y1="971.6" x2="889.9" y2="972.7" stroke="#fff" stroke-width="1.3"/>
<ellipse cx="873" cy="975" rx="12" ry="13" stroke-width="1.8" fill="#fff"/>
<circle cx="872" cy="975" r="8" stroke-width="1.4" fill="#000"/>
<line x1="892.5" y1="999" x2="922.5" y2="1062.5" stroke-width="1.8" stroke-linecap="round"/>
<path d="M817,996 L824,989.5 L836,989.5 L843,997 L843,1010 L836,1017 L824,1017 L817,1010 Z" stroke-width="2.6" fill="#fff" />
<circle cx="829.5" cy="1003.5" r="6" stroke-width="1.2" fill="#000"/>
<line x1="843" y1="1002" x2="852" y2="997" stroke-width="1.8" stroke-linecap="round"/>
<line x1="830" y1="1017.5" x2="826" y2="1036" stroke-width="1.8" stroke-linecap="round"/>
<path d="M763,1033 L770,1026 L782,1026 L789,1033 L789,1045 L782,1052 L770,1052 L763,1045 Z" stroke-width="2.6" fill="#fff" />
<circle cx="775.5" cy="1039" r="6" stroke-width="1.2" fill="#000"/>
<line x1="752" y1="1046" x2="763" y2="1040" stroke-width="1.8" stroke-linecap="round"/>
<line x1="789" y1="1031" x2="792" y2="1028" stroke-width="1.6" stroke-linecap="round"/>
<line x1="780" y1="1052.5" x2="780" y2="1083" stroke-width="1.8" stroke-linecap="round"/>
<path d="M754.5,1068.0 L754.4,1070.3 L751.2,1072.0 L750.8,1073.9 L753.0,1076.9 L752.2,1079.0 L748.7,1079.4 L747.7,1081.1 L748.8,1084.7 L747.3,1086.4 L743.9,1085.5 L742.4,1086.7 L742.2,1090.5 L740.4,1091.6 L737.4,1089.5 L735.6,1090.1 L734.3,1093.6 L732.1,1093.9 L730.0,1090.9 L728.1,1090.8 L725.7,1093.6 L723.7,1093.1 L722.6,1089.5 L720.9,1088.7 L717.8,1090.5 L715.9,1089.3 L716.1,1085.5 L714.8,1084.2 L711.2,1084.7 L709.9,1082.9 L711.3,1079.4 L710.5,1077.7 L707.0,1076.9 L706.3,1074.7 L708.8,1072.0 L708.5,1070.0 L705.5,1068.0 L705.6,1065.7 L708.8,1064.0 L709.2,1062.1 L707.0,1059.1 L707.8,1057.0 L711.3,1056.6 L712.3,1054.9 L711.2,1051.3 L712.7,1049.6 L716.1,1050.5 L717.6,1049.3 L717.8,1045.5 L719.6,1044.4 L722.6,1046.5 L724.4,1045.9 L725.7,1042.4 L727.9,1042.1 L730.0,1045.1 L731.9,1045.2 L734.3,1042.4 L736.3,1042.9 L737.4,1046.5 L739.1,1047.3 L742.2,1045.5 L744.1,1046.7 L743.9,1050.5 L745.2,1051.8 L748.8,1051.3 L750.1,1053.1 L748.7,1056.6 L749.5,1058.3 L753.0,1059.1 L753.7,1061.3 L751.2,1064.0 L751.5,1066.0 Z" stroke-width="2" fill="#fff"/>
<path d="M740,1045 Q756,1055 752,1080 Q748,1092 735,1094" stroke-width="3.6" fill="none" />
<circle cx="726" cy="1068" r="9.5" stroke-width="1.2" fill="#000"/>
<line x1="739" y1="1096" x2="752.5" y2="1140" stroke-width="1.8" stroke-linecap="round"/>
<path d="M841.5,1090.0 L841.4,1092.4 L838.2,1094.1 L837.7,1096.1 L839.8,1099.2 L838.8,1101.3 L835.3,1101.6 L834.1,1103.2 L834.9,1107.0 L833.3,1108.6 L829.9,1107.4 L828.2,1108.4 L827.6,1112.2 L825.5,1113.0 L822.8,1110.5 L820.9,1110.8 L819.0,1114.0 L816.8,1113.9 L815.2,1110.5 L813.3,1110.0 L810.4,1112.2 L808.4,1111.2 L808.1,1107.4 L806.6,1106.1 L803.1,1107.0 L801.6,1105.2 L802.7,1101.6 L801.7,1099.8 L798.2,1099.2 L797.5,1097.0 L799.8,1094.1 L799.5,1092.0 L796.5,1090.0 L796.6,1087.6 L799.8,1085.9 L800.3,1083.9 L798.2,1080.8 L799.2,1078.7 L802.7,1078.4 L803.9,1076.8 L803.1,1073.0 L804.7,1071.4 L808.1,1072.6 L809.8,1071.6 L810.4,1067.8 L812.5,1067.0 L815.2,1069.5 L817.1,1069.2 L819.0,1066.0 L821.2,1066.1 L822.8,1069.5 L824.7,1070.0 L827.6,1067.8 L829.6,1068.8 L829.9,1072.6 L831.4,1073.9 L834.9,1073.0 L836.4,1074.8 L835.3,1078.4 L836.3,1080.2 L839.8,1080.8 L840.5,1083.0 L838.2,1085.9 L838.5,1088.0 Z" stroke-width="2" fill="#fff"/>
<path d="M831,1070 Q842,1082 838,1100" stroke-width="2.2" fill="none" />
<path d="M816,1086 Q818,1094 824,1092 L824,1086" stroke-width="1.9" fill="none" />
<line x1="822.5" y1="1115" x2="831" y2="1162" stroke-width="1.8" stroke-linecap="round"/>
<path d="M723.8,1106.8 L724.1,1108.9 L718.8,1111.4 L718.9,1113.4 L724.6,1115.2 L724.6,1117.3 L719.1,1119.3 L719.1,1121.2 L724.5,1123.7 L724.4,1125.8 L718.7,1127.1 L718.5,1129.0 L723.7,1132.1 L723.4,1134.1 L717.6,1134.8 L717.2,1136.7 L722.1,1140.3 L721.5,1142.3 L715.7,1142.3 L715.1,1144.1 L719.7,1148.2 L718.9,1150.2 L713.1,1149.5 L712.4,1151.2 L716.5,1155.9 L715.6,1157.7 L709.9,1156.3 L709.0,1158.0 L712.6,1163.1 L711.6,1164.8 L706.0,1162.8 L704.9,1164.3 L708.1,1169.8 L706.8,1171.4 L701.5,1168.7 L700.3,1170.1 L702.9,1175.9 L701.5,1177.3 L696.4,1174.1 L695.1,1175.3 L697.2,1181.4 L695.6,1182.6 L690.9,1178.8 L689.4,1179.9 L690.9,1186.1 L689.3,1187.2 L684.9,1182.9 L683.3,1183.8 L684.2,1190.1 L682.5,1191.0 L678.5,1186.2 L676.9,1186.9 L677.2,1193.3 L675.3,1194.0 L671.8,1188.8 L670.1,1189.3 L669.8,1195.7 L667.9,1196.2 L664.9,1190.6 L663.2,1190.9 L662.3,1197.2 L660.4,1197.5 L657.9,1191.6 L656.1,1191.7 L654.6,1197.8 L652.7,1197.9 L650.8,1191.8 L649.0,1191.7 L646.9,1197.6 L645.0,1197.4 L643.6,1191.1 L641.9,1190.8 L639.2,1196.4 L637.3,1196.0 L636.6,1189.7 L634.9,1189.2 L631.7,1194.4 L629.8,1193.8 L629.7,1187.4 L628.0,1186.7 L624.4,1191.6 L622.6,1190.7 L623.1,1184.4 L621.5,1183.5 L617.3,1187.9 L615.6,1186.9 L616.7,1180.6 L615.2,1179.6 L610.7,1183.5 L609.1,1182.2 L610.8,1176.2 L609.3,1174.9 L604.5,1178.3 L603.0,1176.9 L605.2,1171.0 L603.9,1169.7 L598.7,1172.4 L597.4,1170.9 L600.2,1165.3 L599.0,1163.8 L593.6,1166.0 L592.4,1164.3 L595.7,1159.1 L594.7,1157.5 L589.1,1159.0 L588.1,1157.1 L591.9,1152.4 L591.0,1150.7 L585.3,1151.5 L584.4,1149.6 L588.7,1145.3 L588.0,1143.5 L582.1,1143.7 L581.5,1141.7 L586.1,1138.0 L585.6,1136.1 L579.8,1135.6 L579.3,1133.5 L584.3,1130.3 L584.0,1128.4 L578.2,1127.2 L577.9,1125.1 L583.2,1122.6 L583.1,1120.6 L577.4,1118.8 L577.4,1116.7 L582.9,1114.7 L582.9,1112.8 L577.5,1110.3 L577.6,1108.2 L583.3,1106.9 L583.5,1105.0 L578.3,1101.9 L578.6,1099.9 L584.4,1099.2 L584.8,1097.3 L579.9,1093.7 L580.5,1091.7 L586.3,1091.7 L586.9,1089.9 L582.3,1085.8 L583.1,1083.8 L588.9,1084.5 L589.6,1082.8 L585.5,1078.1 L586.4,1076.3 L592.1,1077.7 L593.0,1076.0 L589.4,1070.9 L590.4,1069.2 L596.0,1071.2 L597.1,1069.7 L593.9,1064.2 L595.2,1062.6 L600.5,1065.3 L601.7,1063.9 L599.1,1058.1 L600.5,1056.7 L605.6,1059.9 L606.9,1058.7 L604.8,1052.6 L606.4,1051.4 L611.1,1055.2 L612.6,1054.1 L611.1,1047.9 L612.7,1046.8 L617.1,1051.1 L618.7,1050.2 L617.8,1043.9 L619.5,1043.0 L623.5,1047.8 L625.1,1047.1 L624.8,1040.7 L626.7,1040.0 L630.2,1045.2 L631.9,1044.7 L632.2,1038.3 L634.1,1037.8 L637.1,1043.4 L638.8,1043.1 L639.7,1036.8 L641.6,1036.5 L644.1,1042.4 L645.9,1042.3 L647.4,1036.2 L649.3,1036.1 L651.2,1042.2 L653.0,1042.3 L655.1,1036.4 L657.0,1036.6 L658.4,1042.9 L660.1,1043.2 L662.8,1037.6 L664.7,1038.0 L665.4,1044.3 L667.1,1044.8 L670.3,1039.6 L672.2,1040.2 L672.3,1046.6 L674.0,1047.3 L677.6,1042.4 L679.4,1043.3 L678.9,1049.6 L680.5,1050.5 L684.7,1046.1 L686.4,1047.1 L685.3,1053.4 L686.8,1054.4 L691.3,1050.5 L692.9,1051.8 L691.2,1057.8 L692.7,1059.1 L697.5,1055.7 L699.0,1057.1 L696.8,1063.0 L698.1,1064.3 L703.3,1061.6 L704.6,1063.1 L701.8,1068.7 L703.0,1070.2 L708.4,1068.0 L709.6,1069.7 L706.3,1074.9 L707.3,1076.5 L712.9,1075.0 L713.9,1076.9 L710.1,1081.6 L711.0,1083.3 L716.7,1082.5 L717.6,1084.4 L713.3,1088.7 L714.0,1090.5 L719.9,1090.3 L720.5,1092.3 L715.9,1096.0 L716.4,1097.9 L722.2,1098.4 L722.7,1100.5 L717.7,1103.7 L718.0,1105.6 Z" stroke-width="2.4" fill="#fff"/>
<path d="M665.0,1039.6 L666.8,1040.1 L667.6,1045.2 L669.3,1045.8 L672.3,1041.8 L674.1,1042.5 L674.4,1047.7 L676.1,1048.5 L679.4,1044.9 L681.1,1045.8 L680.9,1051.0 L682.5,1051.9 L686.2,1048.8 L687.8,1049.9 L687.1,1055.0 L688.6,1056.1 L692.6,1053.4 L694.1,1054.7 L692.9,1059.6 L694.3,1060.9 L698.5,1058.7 L699.9,1060.1 L698.3,1064.9 L699.5,1066.4 L703.9,1064.7 L705.2,1066.2 L703.1,1070.8 L704.2,1072.4 L708.8,1071.2 L709.9,1072.9 L707.3,1077.2 L708.3,1078.9 L713.0,1078.2 L713.9,1080.0 L711.0,1084.0 L711.8,1085.8 L716.5,1085.7 L717.3,1087.6 L714.0,1091.2 L714.6,1093.0 L719.3,1093.5 L719.9,1095.5 L716.3,1098.6 L716.7,1100.5 L721.4,1101.5 L721.7,1103.6 L717.8,1106.3 L718.1,1108.2 L722.6,1109.7 L722.8,1111.8 L718.7,1114.1 L718.8,1116.0 L723.1,1118.0 L723.1,1120.1 L718.8,1121.9 L718.7,1123.8 L722.9,1126.3 L722.7,1128.4 L718.1,1129.6 L717.9,1131.5 L721.8,1134.5 L721.4,1136.5 L716.8,1137.2 L716.3,1139.1 L719.9,1142.5 L719.4,1144.5 L714.7,1144.6 L714.0,1146.4 L717.3,1150.2 L716.6,1152.1 L711.9,1151.7 L711.1,1153.4 L714.0,1157.6 L713.1,1159.3 L708.4,1158.4 L707.4,1160.1 L710.0,1164.5 L708.9,1166.1 L704.3,1164.7 L703.2,1166.2 L705.3,1170.9 L704.0,1172.4 L699.6,1170.4 L698.4,1171.8 L700.0,1176.7 L698.6,1178.0 L694.4,1175.6 L693.1,1176.8 L694.2,1181.8 L692.7,1183.0 L688.8,1180.1 L687.3,1181.1 L688.0,1186.2 L686.3,1187.2 L682.7,1183.9 L681.1,1184.7 L681.3,1189.9 L679.6,1190.7 L676.2,1187.0 L674.6,1187.6 L674.3,1192.8" stroke-width="3.2" fill="none"/>
<ellipse cx="651" cy="1117" rx="66.5" ry="73.5" stroke-width="1.9" fill="none" transform="rotate(-8 651 1117)"/>
<path d="M700,1060 Q722,1090 718,1140 Q712,1175 690,1190" stroke-width="3.8" fill="none" />
<ellipse cx="621" cy="1084" rx="18.5" ry="21.5" stroke-width="2.6" fill="#fff" transform="rotate(-8 621 1084)"/>
<path d="M607,1072 Q602,1084 608,1097 Q609,1084 615,1067 Z" stroke-width="1.8" fill="#000" />
<path d="M609,1086 Q621,1082 638,1078" stroke-width="1.6" fill="none" />
<ellipse cx="675" cy="1109" rx="18.5" ry="21.5" stroke-width="2.6" fill="#fff" transform="rotate(-8 675 1109)"/>
<path d="M661,1097 Q656,1109 662,1122 Q663,1109 669,1092 Z" stroke-width="1.8" fill="#000" />
<path d="M663,1111 Q675,1107 692,1103" stroke-width="1.6" fill="none" />
<ellipse cx="615" cy="1137" rx="18.5" ry="21.5" stroke-width="2.6" fill="#fff" transform="rotate(-8 615 1137)"/>
<path d="M601,1125 Q596,1137 602,1150 Q603,1137 609,1120 Z" stroke-width="1.8" fill="#000" />
<path d="M603,1139 Q615,1135 632,1131" stroke-width="1.6" fill="none" />
<ellipse cx="661" cy="1163" rx="18.5" ry="21.5" stroke-width="2.6" fill="#fff" transform="rotate(-8 661 1163)"/>
<path d="M647,1151 Q642,1163 648,1176 Q649,1163 655,1146 Z" stroke-width="1.8" fill="#000" />
<path d="M649,1165 Q661,1161 678,1157" stroke-width="1.6" fill="none" />
<ellipse cx="646" cy="1120" rx="12.5" ry="14" stroke-width="2.9" fill="#fff" transform="rotate(-8 646 1120)"/>
<ellipse cx="646" cy="1121" rx="6" ry="7" stroke-width="2.4" fill="#000"/>
<ellipse cx="647" cy="1123" rx="3" ry="3" stroke-width="1.2" fill="#fff"/>
<circle cx="650" cy="1079" r="2.2" stroke-width="1.2" fill="#000"/>
<circle cx="601" cy="1101" r="2.2" stroke-width="1.2" fill="#000"/>
<circle cx="685" cy="1145" r="2.2" stroke-width="1.2" fill="#000"/>
<circle cx="634" cy="1165" r="2.2" stroke-width="1.2" fill="#000"/>
<line x1="540" y1="1111" x2="581" y2="1102.5" stroke-width="1.8" stroke-linecap="round"/>
<line x1="540" y1="1111" x2="640" y2="1114" stroke-width="1.8" stroke-linecap="round"/>
<ellipse cx="596.5" cy="1152.5" rx="11.5" ry="12.5" stroke-width="5" fill="#fff" transform="rotate(-15 596.5 1152.5)"/>
<ellipse cx="595.5" cy="1152.5" rx="4.5" ry="5" stroke-width="1.9" fill="#fff"/>
<line x1="592" y1="1147" x2="599" y2="1158" stroke-width="1.4" stroke-linecap="round"/>
<line x1="599" y1="1169" x2="599" y2="1214" stroke-width="1.8" stroke-linecap="round"/>
<path d="M560,1158 L578,1151 Q590,1152 590,1163 Q590,1174 580,1178 L564,1183" stroke-width="2.6" fill="#fff" />
<ellipse cx="564" cy="1170" rx="9" ry="12.5" stroke-width="2.9" fill="#fff" transform="rotate(-20 564 1170)"/>
<ellipse cx="563" cy="1170" rx="4" ry="5" stroke-width="1.7" fill="none"/>
<line x1="566" y1="1187.5" x2="564" y2="1260" stroke-width="1.8" stroke-linecap="round"/>
<line x1="550" y1="1183" x2="556" y2="1180" stroke-width="1.7" stroke-linecap="round"/>
<path d="M431,1245 L520,1191 L526,1203 L437,1261" stroke-width="2.6" fill="#fff" />
<path d="M520,1190 L543,1180 Q552,1182 550,1194 L527,1204 Z" stroke-width="2.2" fill="#000" />
<line x1="524.0" y1="1190.0" x2="526.0" y2="1200.0" stroke="#fff" stroke-width="1.1"/>
<line x1="528.8" y1="1187.9" x2="530.8" y2="1197.9" stroke="#fff" stroke-width="1.1"/>
<line x1="533.6" y1="1185.8" x2="535.6" y2="1195.8" stroke="#fff" stroke-width="1.1"/>
<line x1="538.4" y1="1183.7" x2="540.4" y2="1193.7" stroke="#fff" stroke-width="1.1"/>
<line x1="543.2" y1="1181.6" x2="545.2" y2="1191.6" stroke="#fff" stroke-width="1.1"/>
<path d="M431,1245 Q425,1252 431,1258 L437,1261" stroke-width="2.4" fill="none" />
<circle cx="434" cy="1250" r="4" stroke-width="1.9" fill="#fff"/>
<line x1="420" y1="1258" x2="428" y2="1254" stroke-width="1.7" stroke-linecap="round"/>
<line x1="489" y1="1235" x2="491" y2="1280" stroke-width="1.8" stroke-linecap="round"/>
<path d="M398,1262 L415,1255 Q429,1255 430,1268 Q430,1281 418,1285 L403,1290" stroke-width="2.6" fill="#fff" />
<ellipse cx="401" cy="1275" rx="9" ry="13" stroke-width="2.9" fill="#fff" transform="rotate(-20 401 1275)"/>
<ellipse cx="400" cy="1275" rx="4" ry="5.5" stroke-width="1.7" fill="none"/>
<line x1="417.5" y1="1285" x2="430" y2="1325" stroke-width="1.8" stroke-linecap="round"/>
<ellipse cx="383" cy="1288" rx="11" ry="13" stroke-width="5.5" fill="#fff" transform="rotate(-15 383 1288)"/>
<ellipse cx="383" cy="1288" rx="3.5" ry="4.5" stroke-width="1.9" fill="#fff"/>
<line x1="384" y1="1305" x2="385" y2="1345" stroke-width="1.8" stroke-linecap="round"/>
<line x1="366" y1="1298" x2="372" y2="1294" stroke-width="1.7" stroke-linecap="round"/>
<path d="M275,1347.5 L360,1295 Q368,1296 368,1305 L367.5,1312.5 L280,1362.5" stroke-width="2.6" fill="#fff" />
<ellipse cx="277" cy="1355" rx="6" ry="8.5" stroke-width="2.6" fill="#fff" transform="rotate(-30 277 1355)"/>
<circle cx="277" cy="1355" r="3" stroke-width="1.7" fill="#fff"/>
<path d="M297,1340 L305,1333 L309,1336 L303,1343" stroke-width="1.8" fill="none" />
<path d="M316,1346 L322,1342 M327,1340 L333,1336 M338,1333 L344,1329 M349,1326 L355,1322 M358,1320 L364,1316" stroke-width="2.4" fill="none" />
<path d="M355,1298 L362,1300 L366,1308 L360,1311" stroke-width="1.9" fill="none" />
<line x1="316" y1="1349" x2="317.5" y2="1388" stroke-width="1.8" stroke-linecap="round"/>
<polyline points="722.5,1347.5 727.5,1341 907.5,1229 937.5,1215 937.5,1205 942.5,1202.5 970,1200 977.5,1199 985,1206 987.5,1215 998.8,1215 1006,1221 1004,1230 997.5,1234" stroke-width="2.6" fill="none"/>
<polyline points="997.5,1234 997.5,1260 977.5,1262.5 970,1262 968.8,1282.5 955,1287.5" stroke-width="2.6" fill="none"/>
<line x1="968" y1="1262" x2="968" y2="1248" stroke-width="1.9" stroke-linecap="round"/>
<line x1="977.5" y1="1262.5" x2="977.5" y2="1245" stroke-width="1.9" stroke-linecap="round"/>
<path d="M953,1215 Q946,1222 950,1238 Q953,1244 958,1246" stroke-width="2.4" fill="none" />
<path d="M960,1210 Q955,1222 960,1236" stroke-width="3.6" fill="none" />
<path d="M975,1203 Q968,1212 972,1226 Q977,1234 986,1236" stroke-width="3.1" fill="none" />
<path d="M978,1208 Q973,1216 977,1226" stroke-width="1.9" fill="none" />
<ellipse cx="1003" cy="1221" rx="4" ry="4.5" stroke-width="1.8" fill="none"/>
<circle cx="945" cy="1208" r="2" stroke-width="1.2" fill="#000"/>
<line x1="955" y1="1288" x2="775" y2="1397.5" stroke-width="2.9" stroke-linecap="round"/>
<line x1="740" y1="1343" x2="937.5" y2="1230" stroke-width="2.2" stroke-linecap="round"/>
<line x1="748" y1="1348" x2="950" y2="1232" stroke-width="1.7" stroke-linecap="round"/>
<path d="M745,1339 L752,1335 Q756,1334 755,1338 L748,1343 Z" stroke-width="1.9" fill="none" />
<line x1="775" y1="1352.5" x2="962.5" y2="1247.5" stroke-width="2.2" stroke-linecap="round"/>
<line x1="782.5" y1="1365" x2="960" y2="1262.5" stroke-width="1.9" stroke-linecap="round"/>
<line x1="778" y1="1378" x2="954" y2="1275" stroke-width="1.7" stroke-linecap="round"/>
<line x1="790" y1="1360" x2="955" y2="1263" stroke-width="1.2" stroke-linecap="round" stroke-dasharray="12 6"/>
<path d="M782,1362 L790,1357 Q795,1356 794,1361 L786,1366 Z" stroke-width="1.9" fill="none" />
<path d="M935,1259 L944,1255 Q948,1258 945,1265 L938,1266 Z" stroke-width="1.8" fill="#000" />
<path d="M898,1240 L906,1237 Q908,1241 905,1245 L899,1246 Z" stroke-width="1.8" fill="#000" />
<circle cx="911" cy="1233" r="2.2" stroke-width="1.2" fill="#000"/>
<circle cx="955" cy="1255" r="2" stroke-width="1.2" fill="#000"/>
<ellipse cx="966" cy="1252" rx="7" ry="3.5" stroke-width="1.8" fill="none"/>
<path d="M725,1355 Q727,1370 742.5,1380 Q750,1378 752.5,1375 L757.5,1370" stroke-width="2.4" fill="none" />
<path d="M752,1347 Q746,1356 752,1366 Q756,1370 762,1369" stroke-width="3.8" fill="none" />
<path d="M760,1370 Q766,1378 767.5,1400" stroke-width="2.4" fill="none" />
<circle cx="730" cy="1349" r="2" stroke-width="1.2" fill="#000"/>
<circle cx="771" cy="1373" r="2" stroke-width="1.2" fill="#000"/>
<polyline points="524,1343 543,1322.8 545.5,1320.3 568.2,1307.7 577,1301.4 583.3,1299.5 591,1302 593.4,1309 594,1315.3" stroke-width="2.6" fill="none"/>
<polyline points="524,1343 526.5,1355.7 532.8,1360.7" stroke-width="2.4" fill="none"/>
<path d="M532.8,1360.7 L561.9,1335.5" stroke-width="2.2" fill="none" />
<polyline points="550.5,1325.4 555.5,1335.5 568,1335.5 568.8,1351.9 588.4,1340.5 591,1321.6" stroke-width="2.2" fill="none"/>
<path d="M569,1314 Q573,1330 584,1340 L589,1338 L590,1318 L584,1316 L582,1325 L576,1313 Z" stroke-width="1.4" fill="#000" />
<line x1="545.5" y1="1350.6" x2="545.5" y2="1378.4" stroke-width="2.2" stroke-linecap="round"/>
<path d="M532.8,1360.7 L515,1372 L514,1377" stroke-width="2.4" fill="none" />
<line x1="514" y1="1377" x2="514" y2="1416" stroke-width="2.6" stroke-linecap="round"/>
<polyline points="514.5,1374.2 532.5,1361" stroke-width="2.2" fill="none"/>
<polyline points="514.5,1377 538.1,1387.5 546,1382 558,1375.2 561.8,1376.1 563.7,1385.6 568.4,1388.4 580.8,1385.6 595,1392.2 596.9,1407.3 599.7,1411.1 613.9,1417.8" stroke-width="2.2" fill="none"/>
<polyline points="538.1,1387.5 539.1,1396 545.7,1403.6 553.3,1402.6 558,1396 566.6,1390.3" stroke-width="1.9" fill="none"/>
<polyline points="536,1406 545.7,1410.2 556.1,1406.4 570.3,1409.2 574.1,1414.9 575.1,1426.3 569.4,1426.3" stroke-width="1.8" fill="none"/>
<polyline points="575.1,1407.3 588.3,1414.9 591.2,1420.6 590.2,1426.3 577,1437.7 569.4,1441.4" stroke-width="1.8" fill="none"/>
<polyline points="514.5,1415.9 520.2,1420.6 563.7,1443.3" stroke-width="2.2" fill="none"/>
<path d="M531.5,1394 Q534,1392 536.3,1395 L536,1407.3 L532,1406 Z" stroke-width="1.2" fill="#000" />
<path d="M518,1410 L524,1408 L525,1418 L519,1416 Z M526,1410 L530,1410 L531,1420 L527,1420 Z" stroke-width="1.2" fill="#000" />
<path d="M568.4,1433 L574,1432 L575,1439 L569,1439.5 Z" stroke-width="1.2" fill="#000" />
<ellipse cx="586.5" cy="1402" rx="3.5" ry="2.5" stroke-width="1.2" fill="#000"/>
<path d="M531,1372 L538,1371.5 L540,1378 L532,1379 Z" stroke-width="1.2" fill="#000" />
<line x1="514.5" y1="1377" x2="514.5" y2="1416" stroke-width="2.6" stroke-linecap="round"/>
<polyline points="594,1315.3 598.5,1311.5 611,1310.2 621.2,1306.4 627.5,1307.7 647.7,1317.8 650.3,1321.6 651.5,1331.7 652.6,1334 665.3,1328.4 700.6,1344.8 722,1343.6 727.5,1341" stroke-width="2.6" fill="none"/>
<path d="M599.7,1314 Q600,1328 604.8,1340.5 Q608,1350 613.6,1357 Q618,1362 626.3,1365.8 L660,1383.4 L704.4,1407.3" stroke-width="2.2" fill="none" />
<path d="M612.4,1316 L622,1312.7 L630,1318 L628,1326 L633.8,1332 L628,1345.6 L620,1340 L614,1330 Z" stroke-width="1.6" fill="#000" />
<ellipse cx="617.4" cy="1348" rx="3" ry="3" stroke-width="1.4" fill="#000"/>
<path d="M633.8,1325 Q642,1318 650,1326 Q653,1336 647,1344 Q640,1348 634,1344" stroke-width="2.2" fill="none" />
<line x1="640" y1="1373.2" x2="704.4" y2="1407.3" stroke-width="2.2" stroke-linecap="round"/>
<path d="M654,1338 L690.5,1353 L723,1359.3 L800,1312.6" stroke-width="2.2" fill="none" />
<path d="M726,1360.6 Q726,1368 728.4,1373.2 Q732,1380 738.5,1382 L748.6,1380.8 L751,1375.8 Q760,1378 766,1382 Q770,1388 768.8,1394.7 Q767,1400 763.7,1404.8 L728.4,1423.7" stroke-width="2.4" fill="none" />
<path d="M751,1346 Q750,1358 760,1366 L766,1368 Q758,1360 757,1346 Z" stroke-width="1.8" fill="#000" />
<path d="M664,1342 L665,1366 L670,1369 L675,1369 L675,1342 Z" stroke-width="1.9" fill="none" />
<path d="M676,1341 L684,1346 L680,1352 L692,1368 L684,1368 L677,1358 Z" stroke-width="1.6" fill="#000" />
<line x1="686" y1="1352" x2="702" y2="1360" stroke-width="1.7" stroke-linecap="round"/>
<line x1="697" y1="1358" x2="700" y2="1372" stroke-width="1.7" stroke-linecap="round"/>
<ellipse cx="670.3" cy="1379.5" rx="3" ry="2.4" stroke-width="1.4" fill="#000"/>
<ellipse cx="728.4" cy="1350" rx="3" ry="2.4" stroke-width="1.4" fill="#000"/>
<ellipse cx="770" cy="1374.5" rx="3" ry="2.4" stroke-width="1.4" fill="#000"/>
<ellipse cx="675.4" cy="1341.7" rx="3" ry="2.4" stroke-width="1.4" fill="#000"/>
<path d="M684,1374 L695,1372 L697,1377 L686,1380" stroke-width="1.7" fill="none" />
<path d="M682,1376 Q688,1382 690,1388" stroke-width="1.4" fill="none" />
<line x1="772.6" y1="1385.9" x2="771.3" y2="1430" stroke-width="2.2" stroke-linecap="round"/>
<line x1="757.4" y1="1413.6" x2="765" y2="1435" stroke-width="1.9" stroke-linecap="round"/>
<path d="M771.3,1430 Q768,1440 760,1445 L747.5,1447" stroke-width="2.4" fill="none" />
<path d="M747.5,1447 Q750,1465 742.5,1478 Q732,1497 716,1510 Q700,1523 680,1528 Q660,1531 640,1527 Q628,1523 621.3,1516" stroke-width="2.6" fill="none" />
<path d="M652.5,1465 Q690,1466 715,1475 Q720,1490 712,1505 Q705,1516 695,1522" stroke-width="1.9" fill="none" />
<path d="M640,1416 L667.5,1430 L722.5,1455 L745,1450" stroke-width="2.2" fill="none" />
<path d="M725,1455 L728.4,1423.7" stroke-width="1.9" fill="none" />
<path d="M621.3,1501 Q640,1488 655,1482" stroke-width="1.9" fill="none" />
<polyline points="515.2,1474.5 534,1470.7 637.7,1415.2 641.5,1416.4 644,1427.8 650.3,1434 655,1436" stroke-width="2.4" fill="none"/>
<polyline points="543,1474.5 621.3,1434 640,1432" stroke-width="2.2" fill="none"/>
<polyline points="551.8,1504.8 655,1446.7" stroke-width="2.2" fill="none"/>
<polyline points="548,1470.7 565,1462" stroke-width="1.7" fill="none"/>
<path d="M569,1440 L600,1425 Q606,1424 604,1431 L574,1453 Q566,1452 569,1440 Z" stroke-width="2.2" fill="none" />
<path d="M612,1467 L636,1452 L641,1456 L616,1472 Z" stroke-width="2.2" fill="none" />
<path d="M640,1446 L654,1440 L650,1456 Z" stroke-width="1.7" fill="#000" />
<ellipse cx="558" cy="1458" rx="3.5" ry="2.6" stroke-width="1.4" fill="#000"/>
<ellipse cx="606" cy="1478.3" rx="3.5" ry="2.6" stroke-width="1.4" fill="#000"/>
<ellipse cx="567" cy="1504.8" rx="3.5" ry="2.6" stroke-width="1.4" fill="#000"/>
<ellipse cx="519" cy="1478.3" rx="3.5" ry="2.6" stroke-width="1.4" fill="#000"/>
<ellipse cx="622.5" cy="1420.2" rx="3.5" ry="2.6" stroke-width="1.4" fill="#000"/>
<ellipse cx="606" cy="1426.5" rx="3.5" ry="2.6" stroke-width="1.4" fill="#000"/>
<path d="M514.7,1474.6 Q507,1484 502.9,1496.3 Q503,1503 504.5,1507.4 Q505,1512 506.8,1514.5" stroke-width="2.4" fill="none" />
<path d="M510.8,1519.2 Q518,1526 526.6,1531 L546.3,1531 L551.8,1527 L562,1531 L577.9,1529.5" stroke-width="2.6" fill="none" />
<polyline points="514.7,1474.6 534.5,1473.8 544.7,1474.2 556.6,1474.2" stroke-width="2.4" fill="none"/>
<path d="M544.7,1475 Q545,1482 548.7,1486 Q551,1491 554.2,1493.1 Q558,1495 562.9,1496.3" stroke-width="8.4" fill="none" />
<path d="M526.6,1482.1 Q527,1490 530.5,1495.5 Q533,1500 536.8,1502.6 Q541,1506 545.5,1507.4 L550.2,1507.4" stroke-width="7.2" fill="none" />
<path d="M522.6,1484.5 Q522,1497 526,1503 Q528,1506 531.3,1507.4 Q535,1510 539.2,1510.5" stroke-width="1.8" fill="none" />
<path d="M512.4,1494.7 Q513,1505 515,1509 Q518,1514 521,1515.2 Q524,1519 528.1,1520" stroke-width="1.8" fill="none" />
<path d="M515.5,1476 L525,1477 L524,1481.3 L516,1481 Z" stroke-width="1.4" fill="#000" />
<ellipse cx="568" cy="1505" rx="4" ry="2.5" stroke-width="1.4" fill="#000"/>
<line x1="577.9" y1="1498.7" x2="577.9" y2="1528.7" stroke-width="2.4" stroke-linecap="round"/>
<line x1="577.9" y1="1498.7" x2="595" y2="1487.6" stroke-width="2.2" stroke-linecap="round"/>
<line x1="578.7" y1="1516.8" x2="595" y2="1507.4" stroke-width="1.9" stroke-linecap="round"/>
<path d="M550,1510 L560,1505 M552,1516 L566,1508" stroke-width="1.8" fill="none" />
<path d="M578,1528.7 L598.5,1518.7 L620,1518.7 L620,1492 L598.5,1491 L598.5,1518.7" stroke-width="2.2" fill="none" />
<line x1="595" y1="1487.6" x2="598.5" y2="1491" stroke-width="1.9" stroke-linecap="round"/>
<path d="M500,1440 L527,1452 L529,1464 L502,1452 Z" stroke-width="2.4" fill="#fff" />
<path d="M499,1440 L502,1452" stroke-width="2.4" fill="none" />
<line x1="508" y1="1446" x2="510" y2="1456" stroke-width="1.7" stroke-linecap="round"/>
<line x1="517" y1="1450" x2="519" y2="1460" stroke-width="1.7" stroke-linecap="round"/>
<path d="M469,1458 L499,1472 L501,1484 L470,1470 Z" stroke-width="2.4" fill="#fff" />
<line x1="471" y1="1406" x2="476" y2="1455" stroke-width="1.8" stroke-linecap="round"/>
<line x1="471" y1="1406" x2="497.5" y2="1437.5" stroke-width="1.8" stroke-linecap="round"/>
<line x1="480" y1="1445" x2="482" y2="1442" stroke-width="1.6" stroke-linecap="round"/>
<path d="M442,1476 L470,1490 L468,1500 L440,1486 Z" stroke-width="1.8" fill="#000" />
<line x1="432.5" y1="1429" x2="449" y2="1472.5" stroke-width="1.8" stroke-linecap="round"/>
<line x1="455" y1="1466" x2="462" y2="1461" stroke-width="1.7" stroke-linecap="round"/>
<path d="M421,1466 L426,1460 L435,1460 L439,1466 L439,1472 L434,1477 L425,1477 L421,1472 Z" stroke-width="2.4" fill="#fff" />
<circle cx="428" cy="1469" r="3.5" stroke-width="1.2" fill="#000"/>
<line x1="404" y1="1421" x2="424" y2="1460" stroke-width="1.8" stroke-linecap="round"/>
<line x1="417" y1="1473" x2="408" y2="1479" stroke-width="1.7" stroke-linecap="round"/>
<path d="M476,1497 L480,1492 L488,1492 L491,1497 L491,1503 L487,1508 L479,1508 L476,1503 Z" stroke-width="2.4" fill="#fff" />
<circle cx="482" cy="1500" r="3.2" stroke-width="1.2" fill="#000"/>
<line x1="482" y1="1511.8" x2="459.8" y2="1585.6" stroke-width="1.8" stroke-linecap="round"/>
<line x1="491" y1="1496" x2="515" y2="1480" stroke-width="1.7" stroke-linecap="round"/>
<line x1="462" y1="1513" x2="476" y2="1504" stroke-width="1.7" stroke-linecap="round"/>
<path d="M390,1485 Q386,1492 392,1497 L398,1500 L403,1510 L430,1522 L450,1528 Q460,1528 460,1518 Q458,1510 450,1507 L405,1484 Q396,1480 390,1485 Z" stroke-width="2.4" fill="#fff" />
<circle cx="392" cy="1490" r="2.5" stroke-width="1.7" fill="none"/>
<ellipse cx="440" cy="1518" rx="5" ry="4.5" stroke-width="1.9" fill="none"/>
<path d="M436,1512 L448,1514 L450,1524 L438,1523 Z" stroke-width="1.7" fill="#000" />
<line x1="372.5" y1="1412.5" x2="396" y2="1480" stroke-width="1.8" stroke-linecap="round"/>
<line x1="412" y1="1490" x2="420" y2="1480" stroke-width="1.6" stroke-linecap="round"/>
<path d="M404,1505 L410,1500 L414,1508 M416,1510 L423,1503" stroke-width="2.9" fill="none" />
<circle cx="424" cy="1518" r="1.8" stroke-width="1.2" fill="#000"/>
<circle cx="370.5" cy="1505" r="6.5" stroke-width="1.2" fill="#000"/>
<line x1="366" y1="1465" x2="369" y2="1498" stroke-width="1.8" stroke-linecap="round"/>
<line x1="377" y1="1502" x2="389" y2="1494" stroke-width="1.7" stroke-linecap="round"/>
<path d="M357,1536 L376,1525 Q381,1524 380,1529 L361,1540 Q355,1541 357,1536 Z" stroke-width="1.8" fill="#000" />
<line x1="340" y1="1445" x2="361" y2="1529" stroke-width="1.8" stroke-linecap="round"/>
<path d="M376,1545 L398,1532 Q403,1532 402,1537 L380,1550 Q374,1551 376,1545 Z" stroke-width="1.8" fill="#000" />
<path d="M392,1530 L406,1522 L412,1528 L398,1537" stroke-width="2.2" fill="none" />
<path d="M395,1517 L410,1508" stroke-width="3.6" fill="none" />
<line x1="305" y1="1500" x2="356" y2="1557.5" stroke-width="1.8" stroke-linecap="round"/>
<line x1="356" y1="1557.5" x2="386" y2="1540" stroke-width="1.7" stroke-linecap="round"/>
<line x1="300" y1="1552.5" x2="385" y2="1500" stroke-width="1.8" stroke-linecap="round" stroke-dasharray="14 5"/>
<line x1="291" y1="1590" x2="447" y2="1521" stroke-width="1.8" stroke-linecap="round" stroke-dasharray="12 5"/>
<line x1="447" y1="1521" x2="470" y2="1512" stroke-width="1.7" stroke-linecap="round" stroke-dasharray="8 5"/>
<line x1="296" y1="1555" x2="340" y2="1530" stroke-width="1.7" stroke-linecap="round" stroke-dasharray="10 5"/>
<path d="M272.5,1519 Q274,1515 280,1515 L286,1516 Q290,1520 289,1526 L295,1560 L296,1570 L289,1580 L290,1604 Q287,1607 280,1606 L274,1604 L269,1582.5 Q269,1574 280,1566 L272.5,1519 Z" stroke-width="2.6" fill="#fff" />
<path d="M280,1566 L296,1570" stroke-width="1.8" fill="none" />
<circle cx="279" cy="1527" r="2" stroke-width="1.2" fill="#000"/>
<circle cx="279" cy="1596" r="2" stroke-width="1.2" fill="#000"/>
<line x1="229" y1="1459" x2="267.5" y2="1516" stroke-width="1.8" stroke-linecap="round"/>
<path d="M206,1609 L264,1573 L266,1576 L209,1617 Z" stroke-width="1.9" fill="#fff" />
<path d="M231,1594 L251,1582 L254,1586 L234,1600 Z" stroke-width="1.4" fill="#000" />
<ellipse cx="204.5" cy="1613.5" rx="5" ry="6" stroke-width="2.6" fill="#fff" transform="rotate(-30 204.5 1613.5)"/>
<line x1="266" y1="1574" x2="272" y2="1570" stroke-width="1.8" stroke-linecap="round"/>
<line x1="195" y1="1557.5" x2="219" y2="1596" stroke-width="1.8" stroke-linecap="round"/>
<ellipse cx="250.5" cy="1614" rx="8.5" ry="9.5" stroke-width="3.6" fill="#fff"/>
<circle cx="250" cy="1614" r="4" stroke-width="1.2" fill="#000"/>
<line x1="259" y1="1608" x2="266" y2="1604" stroke-width="1.7" stroke-linecap="round"/>
<line x1="184" y1="1500" x2="244" y2="1604" stroke-width="1.8" stroke-linecap="round"/>
<path d="M224,1622 Q227,1616 235,1617 Q243,1620 243,1627 Q241,1634 232,1634 Q223,1632 224,1622 Z" stroke-width="1.8" fill="#000" />
<ellipse cx="237" cy="1620" rx="2.5" ry="2" stroke-width="1" fill="#fff"/>
<line x1="216" y1="1614" x2="224" y2="1641" stroke-width="3.1" stroke-linecap="round"/>
<line x1="167.5" y1="1634" x2="219" y2="1631" stroke-width="1.8" stroke-linecap="round"/>
<line x1="231" y1="1676" x2="241" y2="1629" stroke-width="1.8" stroke-linecap="round"/>
<path d="M318,1604 L378,1568 L383,1574 L323,1611 Z" stroke-width="2.2" fill="#fff" />
<ellipse cx="319" cy="1607" rx="5.5" ry="6" stroke-width="2.6" fill="#fff" transform="rotate(-30 319 1607)"/>
<path d="M373,1570 Q378,1563 384,1566 Q387,1572 382,1578 Z" stroke-width="1.9" fill="#000" />
<line x1="345" y1="1597.5" x2="351" y2="1635" stroke-width="1.8" stroke-linecap="round"/>
<line x1="381" y1="1582.5" x2="392.5" y2="1624" stroke-width="1.8" stroke-linecap="round"/>
<line x1="384" y1="1566" x2="400" y2="1556" stroke-width="1.7" stroke-linecap="round"/>
<line x1="861" y1="1350.5" x2="876" y2="1393" stroke-width="1.8" stroke-linecap="round"/>
<g class="lbl">
<text transform="matrix(0.1923 0 0 0.2958 662.88 113.46)" x="50" y="180">1</text>
<text transform="matrix(0.2317 0 0 0.2877 497.16 135.64)" x="50" y="180">54A</text>
<text transform="matrix(0.2542 0 0 0.2917 678.05 159.21)" x="50" y="180">2</text>
<text transform="matrix(0.2252 0 0 0.2917 504.74 181.92)" x="50" y="180">54</text>
<text transform="matrix(0.2368 0 0 0.2945 797.89 122.40)" x="50" y="180">3</text>
<text transform="matrix(0.2586 0 0 0.3197 1042.84 83.83)" x="50" y="180">4</text>
<text transform="matrix(0.2432 0 0 0.2945 416.84 255.40)" x="50" y="180">53</text>
<text transform="matrix(0.2448 0 0 0.3014 973.26 286.85)" x="50" y="180">5</text>
<text transform="matrix(0.2473 0 0 0.2986 819.59 360.25)" x="50" y="180">6</text>
<text transform="matrix(0.2745 0 0 0.2903 810.13 429.36)" x="50" y="180">7</text>
<text transform="matrix(0.2545 0 0 0.2945 494.78 543.90)" x="50" y="180">52</text>
<text transform="matrix(0.2632 0 0 0.3014 689.34 626.15)" x="50" y="180">8</text>
<text transform="matrix(0.2411 0 0 0.2740 695.21 697.64)" x="50" y="180">9</text>
<text transform="matrix(0.2232 0 0 0.2740 731.34 706.14)" x="50" y="180">10</text>
<text transform="matrix(0.1800 0 0 0.2465 707.00 750.39)" x="50" y="180">11</text>
<text transform="matrix(0.2143 0 0 0.2778 725.29 760.72)" x="50" y="180">12</text>
<text transform="matrix(0.2162 0 0 0.2534 809.19 736.38)" x="50" y="180">13</text>
<text transform="matrix(0.1802 0 0 0.2676 796.99 851.56)" x="50" y="180">14</text>
<text transform="matrix(0.1842 0 0 0.2639 775.79 881.97)" x="50" y="180">15</text>
<text transform="matrix(0.1858 0 0 0.2740 745.71 906.14)" x="50" y="180">16</text>
<text transform="matrix(0.1810 0 0 0.2778 619.95 952.22)" x="50" y="180">17</text>
<text transform="matrix(0.1920 0 0 0.2740 652.90 940.14)" x="50" y="180">18</text>
<text transform="matrix(0.1963 0 0 0.2569 559.19 804.24)" x="50" y="180">51</text>
<text transform="matrix(0.2679 0 0 0.2740 424.11 771.14)" x="50" y="180">50</text>
<text transform="matrix(0.2043 0 0 0.2740 424.40 816.14)" x="50" y="180">49</text>
<text transform="matrix(0.2609 0 0 0.2877 363.74 828.64)" x="50" y="180">48</text>
<text transform="matrix(0.1892 0 0 0.2603 415.54 913.63)" x="50" y="180">13</text>
<text transform="matrix(0.1886 0 0 0.2708 463.57 913.21)" x="50" y="180">15</text>
<text transform="matrix(0.2185 0 0 0.2778 363.73 945.72)" x="50" y="180">47</text>
<text transform="matrix(0.1842 0 0 0.2639 314.79 975.97)" x="50" y="180">15</text>
<text transform="matrix(0.2284 0 0 0.2740 265.26 991.14)" x="50" y="180">46</text>
<text transform="matrix(0.2222 0 0 0.2778 219.56 1025.44)" x="50" y="180">45</text>
<text transform="matrix(0.1858 0 0 0.2740 530.71 1006.14)" x="50" y="180">16</text>
<text transform="matrix(0.2414 0 0 0.2534 498.93 1076.38)" x="50" y="180">57</text>
<text transform="matrix(0.2321 0 0 0.2740 578.62 1190.14)" x="50" y="180">33</text>
<text transform="matrix(0.2368 0 0 0.2877 538.87 1231.64)" x="50" y="180">23</text>
<text transform="matrix(0.2325 0 0 0.2606 471.57 1253.84)" x="50" y="180">44</text>
<text transform="matrix(0.2368 0 0 0.2986 362.87 1313.45)" x="50" y="180">24</text>
<text transform="matrix(0.2544 0 0 0.2945 404.04 1293.90)" x="50" y="180">23</text>
<text transform="matrix(0.2325 0 0 0.2606 301.57 1360.34)" x="50" y="180">44</text>
<text transform="matrix(0.2321 0 0 0.2671 855.62 1365.88)" x="50" y="180">34</text>
<text transform="matrix(0.2412 0 0 0.2740 448.66 1350.14)" x="50" y="180">43</text>
<text transform="matrix(0.2000 0 0 0.2817 349.60 1360.01)" x="50" y="180">41</text>
<text transform="matrix(0.2174 0 0 0.2877 381.85 1367.64)" x="50" y="180">35</text>
<text transform="matrix(0.2174 0 0 0.2639 414.78 1376.24)" x="50" y="180">42</text>
<text transform="matrix(0.2281 0 0 0.2778 313.60 1393.44)" x="50" y="180">55</text>
<text transform="matrix(0.2018 0 0 0.2603 339.61 1412.63)" x="50" y="180">36</text>
<text transform="matrix(0.2609 0 0 0.2877 201.74 1403.64)" x="50" y="180">40</text>
<text transform="matrix(0.2301 0 0 0.2740 153.73 1446.14)" x="50" y="180">39</text>
<text transform="matrix(0.2411 0 0 0.2740 281.95 1447.64)" x="50" y="180">58</text>
<text transform="matrix(0.2350 0 0 0.2740 158.48 1506.14)" x="50" y="180">37</text>
<text transform="matrix(0.2435 0 0 0.2986 437.07 1557.65)" x="50" y="180">35</text>
<text transform="matrix(0.2411 0 0 0.3014 126.95 1592.15)" x="50" y="180">59</text>
<text transform="matrix(0.2522 0 0 0.2945 324.89 1603.90)" x="50" y="180">56</text>
<text transform="matrix(0.2456 0 0 0.2945 373.96 1593.90)" x="50" y="180">36</text>
<text transform="matrix(0.2566 0 0 0.2877 203.42 1647.64)" x="50" y="180">38</text>
<text transform="matrix(0.1741 0 0 0.2603 868.29 761.63)" x="50" y="180">19</text>
<text transform="matrix(0.2609 0 0 0.2808 895.24 766.89)" x="50" y="180">20</text>
<text transform="matrix(0.1818 0 0 0.2500 961.45 780.75)" x="50" y="180">21</text>
<text transform="matrix(0.2522 0 0 0.2778 1113.15 582.22)" x="50" y="180">22</text>
<text transform="matrix(0.2368 0 0 0.2569 1062.87 614.49)" x="50" y="180">24</text>
<text transform="matrix(0.2500 0 0 0.2740 1025.75 629.14)" x="50" y="180">23</text>
<text transform="matrix(0.2391 0 0 0.2986 973.76 658.45)" x="50" y="180">22</text>
<text transform="matrix(0.2350 0 0 0.2877 1128.95 832.64)" x="50" y="180">25</text>
<text transform="matrix(0.2371 0 0 0.2740 1118.86 880.14)" x="50" y="180">26</text>
<text transform="matrix(0.2304 0 0 0.2740 956.67 970.14)" x="50" y="180">28</text>
<text transform="matrix(0.2348 0 0 0.2945 932.97 1008.90)" x="50" y="180">29</text>
<text transform="matrix(0.2522 0 0 0.2639 899.15 1037.24)" x="50" y="180">22</text>
<text transform="matrix(0.2435 0 0 0.2639 804.56 1007.24)" x="50" y="180">22</text>
<text transform="matrix(0.2687 0 0 0.3110 1005.77 1002.11)" x="50" y="180">20</text>
<text transform="matrix(0.2487 0 0 0.3097 1059.71 1027.24)" x="50" y="180">27</text>
<text transform="matrix(0.2054 0 0 0.2945 1105.73 1023.40)" x="50" y="180">19</text>
<text transform="matrix(0.2061 0 0 0.2465 759.31 1057.89)" x="50" y="180">44</text>
<text transform="matrix(0.2193 0 0 0.2324 739.69 1115.44)" x="50" y="180">44</text>
<text transform="matrix(0.2009 0 0 0.2740 814.96 1135.14)" x="50" y="180">18</text>
</g>
</g></svg>
<div class="logo"><span style="color:#4a6cc0">m</span><span style="color:#3fae49">o</span><span style="color:#ec6aa8">t</span><span style="color:#2ea84a">o</span><span style="color:#ea4b26">r</span><span style="color:#f0a020">u</span><span style="color:#f3cc1c">f</span><span style="color:#333;font-size:17px">.de</span><span style="position:absolute;left:132px;top:3px;font-size:6px;color:#888">&#174;</span></div>
</body></html>
